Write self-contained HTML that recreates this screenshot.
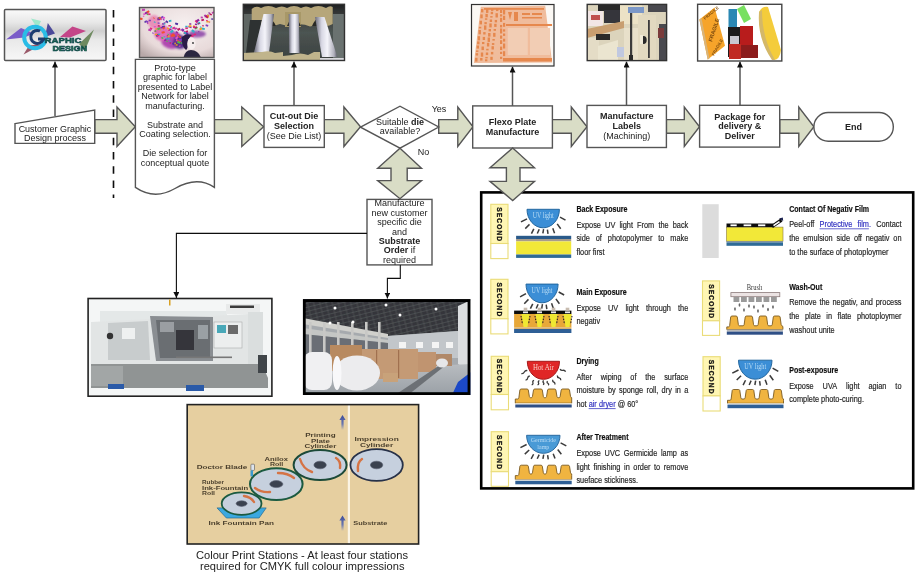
<!DOCTYPE html><html><head><meta charset="utf-8"><style>
html,body{margin:0;padding:0;background:#fff;width:920px;height:577px;overflow:hidden}
svg{display:block}
text{font-family:"Liberation Sans", sans-serif}
</style></head><body>
<svg width="920" height="577" viewBox="0 0 920 577">
<defs>
<marker id="ah" viewBox="0 0 10 10" refX="10" refY="5" markerWidth="6" markerHeight="6" orient="auto-start-reverse" markerUnits="userSpaceOnUse"><path d="M0,0 L10,5 L0,10 z" fill="#111"/></marker>
<filter id="soft" x="0" y="0" width="920" height="577" filterUnits="userSpaceOnUse"><feGaussianBlur stdDeviation="0.3"/></filter>
</defs>
<rect width="920" height="577" fill="#fff"/>
<g filter="url(#soft)">

<defs><filter id="bl1" x="-10%" y="-10%" width="120%" height="120%"><feGaussianBlur stdDeviation="0.6"/></filter><filter id="bl2" x="-20%" y="-20%" width="140%" height="140%"><feGaussianBlur stdDeviation="1.2"/></filter><filter id="bl3" x="-30%" y="-30%" width="160%" height="160%"><feGaussianBlur stdDeviation="2"/></filter><linearGradient id="gdbg" x1="0" y1="0" x2="0" y2="1"><stop offset="0" stop-color="#fafafa"/><stop offset="0.25" stop-color="#e8e8e8"/><stop offset="0.42" stop-color="#cfcfcf"/><stop offset="0.6" stop-color="#e9e9e9"/><stop offset="1" stop-color="#f7f7f7"/></linearGradient><radialGradient id="bfbg" cx="0.6" cy="0.35" r="0.8"><stop offset="0" stop-color="#f6f0f0"/><stop offset="0.7" stop-color="#e8dada"/><stop offset="1" stop-color="#b8a8a8"/></radialGradient><linearGradient id="cyl" x1="0" y1="0" x2="1" y2="0"><stop offset="0" stop-color="#8a8a96"/><stop offset="0.35" stop-color="#f0f0f6"/><stop offset="0.7" stop-color="#dcdce4"/><stop offset="1" stop-color="#7a7a84"/></linearGradient><clipPath id="c_gd"><rect x="4.5" y="9.5" width="101.5" height="51"/></clipPath><clipPath id="c_bf"><rect x="139.5" y="7.5" width="74.5" height="50"/></clipPath><clipPath id="c_die"><rect x="243.3" y="4.3" width="101.2" height="56.2"/></clipPath><clipPath id="c_fx"><rect x="471.5" y="4.5" width="82.5" height="61.5"/></clipPath><clipPath id="c_lb"><rect x="587.2" y="4.4" width="79.4" height="56.2"/></clipPath><clipPath id="c_pk"><rect x="697.6" y="4.3" width="84.2" height="56.7"/></clipPath><clipPath id="c_la"><rect x="88.1" y="298.5" width="183.8" height="97.7"/></clipPath><clipPath id="c_wh"><rect x="303" y="299.3" width="167.3" height="95.6"/></clipPath><clipPath id="c_pr"><rect x="187.2" y="404.6" width="231.4" height="139.4"/></clipPath></defs>
<g clip-path="url(#c_gd)">
<rect x="4.5" y="9.5" width="101.5" height="51" fill="url(#gdbg)"/>
<g filter="url(#bl1)">
<polygon points="6,39.5 21,28 34,33.5 24,37.5" fill="#7a5cc8"/>
<polygon points="31,18.5 41,21 37.5,28.5" fill="#a0e8cc"/>
<polygon points="47.8,23 55,33.5 45,37" fill="#4c4a9a"/>
<polygon points="60,37 72.4,26.5 86,31 70,37.5" fill="#c44488"/>
<polygon points="79,44 94,29.5 85,50" fill="#6e8a60"/>
<polygon points="23.5,54.5 29,45.5 43,44" fill="#9a5868"/>
<circle cx="35" cy="37.5" r="10.8" fill="none" stroke="#2cbce6" stroke-width="4"/>
<path d="M38,39 h7 M40,31 a6.5,6.5 0 1 0 3,9" fill="none" stroke="#1a3c70" stroke-width="3"/>
<text x="44.5" y="43.2" font-size="8" font-weight="bold" fill="#1a6a50" textLength="37" lengthAdjust="spacingAndGlyphs" stroke="#0a3a48" stroke-width="0.5">RAPHIC</text>
<text x="52.5" y="50.5" font-size="8" font-weight="bold" fill="#2a8a50" textLength="34.5" lengthAdjust="spacingAndGlyphs" stroke="#0a3a48" stroke-width="0.6">DESIGN</text>
</g></g>
<rect x="4.5" y="9.5" width="101.5" height="51" fill="none" stroke="#555" stroke-width="1.5" rx="1"/>
<g clip-path="url(#c_bf)">
<rect x="139.5" y="7.5" width="74.5" height="50" fill="url(#bfbg)"/>
<g filter="url(#bl2)">
<ellipse cx="172" cy="40" rx="11" ry="9" fill="#b048b0"/>
<ellipse cx="180" cy="42" rx="7" ry="7" fill="#5a3090"/>
<ellipse cx="162" cy="33" rx="8" ry="8" fill="#e070b8"/>
<ellipse cx="154" cy="22" rx="6" ry="7" fill="#e890b8"/>
<ellipse cx="197" cy="34" rx="9" ry="3.5" fill="#9a5ab0"/>
</g>
<g filter="url(#bl1)">
<rect x="172.0" y="34.2" width="3.1" height="2.1" fill="#f05030" transform="rotate(17 173.6 35.3)"/>
<rect x="176.7" y="36.0" width="1.7" height="1.2" fill="#9028a0" transform="rotate(20 177.6 36.6)"/>
<rect x="147.0" y="22.7" width="1.6" height="1.1" fill="#c040b0" transform="rotate(-35 147.8 23.3)"/>
<rect x="172.3" y="42.8" width="2.6" height="1.8" fill="#5030a0" transform="rotate(-39 173.6 43.7)"/>
<rect x="163.6" y="36.2" width="1.8" height="1.2" fill="#30b0c8" transform="rotate(-3 164.5 36.8)"/>
<rect x="175.9" y="39.4" width="2.2" height="1.6" fill="#e050c8" transform="rotate(12 177.0 40.1)"/>
<rect x="162.7" y="19.1" width="1.9" height="1.3" fill="#8040c0" transform="rotate(32 163.7 19.8)"/>
<rect x="194.7" y="26.8" width="2.9" height="2.0" fill="#50b850" transform="rotate(-32 196.2 27.8)"/>
<rect x="139.5" y="17.8" width="3.0" height="2.1" fill="#f05030" transform="rotate(8 141.0 18.9)"/>
<rect x="196.3" y="21.1" width="1.6" height="1.1" fill="#c01860" transform="rotate(-39 197.1 21.7)"/>
<rect x="148.7" y="20.0" width="1.6" height="1.1" fill="#e02878" transform="rotate(19 149.5 20.6)"/>
<rect x="180.4" y="29.4" width="1.7" height="1.2" fill="#c040b0" transform="rotate(-24 181.3 30.0)"/>
<rect x="170.1" y="26.3" width="2.1" height="1.5" fill="#30b0c8" transform="rotate(-40 171.2 27.0)"/>
<rect x="197.3" y="22.2" width="3.0" height="2.1" fill="#30b0c8" transform="rotate(-17 198.8 23.3)"/>
<rect x="211.3" y="18.4" width="1.9" height="1.3" fill="#5030a0" transform="rotate(2 212.2 19.0)"/>
<rect x="200.0" y="26.6" width="1.5" height="1.1" fill="#30b0c8" transform="rotate(34 200.8 27.1)"/>
<rect x="166.7" y="37.7" width="1.6" height="1.1" fill="#5030a0" transform="rotate(21 167.5 38.2)"/>
<rect x="167.8" y="37.8" width="2.0" height="1.4" fill="#30b0c8" transform="rotate(38 168.8 38.5)"/>
<rect x="157.6" y="17.0" width="2.7" height="1.9" fill="#9028a0" transform="rotate(-15 159.0 17.9)"/>
<rect x="189.3" y="26.5" width="2.3" height="1.6" fill="#8040c0" transform="rotate(13 190.5 27.2)"/>
<rect x="143.3" y="13.3" width="2.3" height="1.6" fill="#e050c8" transform="rotate(-10 144.4 14.1)"/>
<rect x="193.2" y="26.7" width="2.2" height="1.5" fill="#5030a0" transform="rotate(22 194.3 27.4)"/>
<rect x="160.8" y="16.3" width="2.7" height="1.9" fill="#8040c0" transform="rotate(-24 162.1 17.2)"/>
<rect x="156.0" y="34.3" width="2.9" height="2.1" fill="#5030a0" transform="rotate(-31 157.4 35.3)"/>
<rect x="159.6" y="29.4" width="1.5" height="1.1" fill="#f0a020" transform="rotate(-4 160.4 29.9)"/>
<rect x="166.7" y="35.3" width="1.6" height="1.1" fill="#c01860" transform="rotate(-23 167.6 35.9)"/>
<rect x="142.0" y="8.8" width="3.0" height="2.1" fill="#c040b0" transform="rotate(-1 143.5 9.8)"/>
<rect x="185.4" y="30.7" width="2.7" height="1.9" fill="#c01860" transform="rotate(-23 186.8 31.7)"/>
<rect x="211.8" y="11.7" width="2.4" height="1.7" fill="#c040b0" transform="rotate(-35 213.0 12.5)"/>
<rect x="205.6" y="24.6" width="2.6" height="1.8" fill="#8040c0" transform="rotate(13 206.9 25.5)"/>
<rect x="188.0" y="26.3" width="1.4" height="1.0" fill="#8040c0" transform="rotate(-30 188.7 26.8)"/>
<rect x="146.6" y="13.8" width="1.9" height="1.3" fill="#50b850" transform="rotate(2 147.5 14.4)"/>
<rect x="181.4" y="28.7" width="2.9" height="2.0" fill="#8040c0" transform="rotate(26 182.8 29.7)"/>
<rect x="183.4" y="31.0" width="1.8" height="1.3" fill="#c040b0" transform="rotate(-26 184.3 31.6)"/>
<rect x="175.3" y="36.8" width="3.1" height="2.1" fill="#e050c8" transform="rotate(-39 176.8 37.9)"/>
<rect x="183.7" y="32.4" width="2.8" height="1.9" fill="#c01860" transform="rotate(16 185.0 33.4)"/>
<rect x="168.9" y="19.9" width="2.5" height="1.8" fill="#30b0c8" transform="rotate(-13 170.1 20.8)"/>
<rect x="167.7" y="35.7" width="2.0" height="1.4" fill="#f0a020" transform="rotate(-23 168.7 36.4)"/>
<rect x="208.5" y="21.4" width="1.7" height="1.2" fill="#f05030" transform="rotate(20 209.4 22.0)"/>
<rect x="159.7" y="18.3" width="2.1" height="1.5" fill="#e02878" transform="rotate(26 160.8 19.1)"/>
<rect x="175.1" y="22.8" width="2.9" height="2.0" fill="#5030a0" transform="rotate(17 176.6 23.8)"/>
<rect x="159.7" y="36.6" width="2.6" height="1.8" fill="#e050c8" transform="rotate(33 161.0 37.6)"/>
<rect x="165.3" y="38.7" width="2.4" height="1.7" fill="#e02878" transform="rotate(-23 166.5 39.5)"/>
<rect x="195.0" y="20.5" width="2.8" height="2.0" fill="#e02878" transform="rotate(40 196.4 21.5)"/>
<rect x="148.1" y="13.3" width="2.4" height="1.7" fill="#e02878" transform="rotate(7 149.3 14.1)"/>
<rect x="154.5" y="30.7" width="1.7" height="1.2" fill="#e02878" transform="rotate(20 155.4 31.3)"/>
<rect x="168.1" y="29.6" width="1.8" height="1.2" fill="#e02878" transform="rotate(8 168.9 30.2)"/>
<rect x="179.4" y="38.9" width="2.3" height="1.6" fill="#c01860" transform="rotate(19 180.6 39.7)"/>
<rect x="148.8" y="19.7" width="2.1" height="1.5" fill="#8040c0" transform="rotate(-1 149.9 20.4)"/>
<rect x="178.7" y="45.5" width="2.0" height="1.4" fill="#c040b0" transform="rotate(-38 179.7 46.2)"/>
<rect x="171.4" y="33.9" width="2.8" height="1.9" fill="#f05030" transform="rotate(-37 172.7 34.9)"/>
<rect x="177.9" y="40.2" width="3.0" height="2.1" fill="#f05030" transform="rotate(-21 179.4 41.3)"/>
<rect x="177.2" y="40.1" width="2.2" height="1.5" fill="#f05030" transform="rotate(34 178.3 40.9)"/>
<rect x="208.4" y="12.4" width="1.8" height="1.3" fill="#9028a0" transform="rotate(31 209.3 13.0)"/>
<rect x="185.5" y="32.5" width="2.9" height="2.0" fill="#9028a0" transform="rotate(-8 187.0 33.6)"/>
<rect x="162.0" y="25.9" width="2.9" height="2.0" fill="#5030a0" transform="rotate(-14 163.4 26.9)"/>
<rect x="176.0" y="27.8" width="1.6" height="1.1" fill="#e02878" transform="rotate(37 176.8 28.3)"/>
<rect x="167.4" y="33.8" width="1.5" height="1.0" fill="#50b850" transform="rotate(29 168.1 34.3)"/>
<rect x="175.6" y="40.9" width="1.5" height="1.1" fill="#9028a0" transform="rotate(18 176.4 41.5)"/>
<rect x="206.4" y="20.9" width="2.3" height="1.6" fill="#f0a020" transform="rotate(3 207.5 21.7)"/>
<rect x="162.6" y="17.1" width="2.5" height="1.8" fill="#e050c8" transform="rotate(-24 163.8 18.0)"/>
<rect x="142.9" y="15.8" width="1.4" height="1.0" fill="#e050c8" transform="rotate(1 143.6 16.3)"/>
<rect x="175.7" y="31.6" width="2.4" height="1.7" fill="#9028a0" transform="rotate(39 176.9 32.5)"/>
<rect x="157.9" y="17.5" width="2.4" height="1.6" fill="#50b850" transform="rotate(-38 159.0 18.3)"/>
<rect x="166.9" y="27.6" width="2.4" height="1.6" fill="#f0a020" transform="rotate(28 168.1 28.4)"/>
<rect x="185.5" y="32.9" width="2.9" height="2.1" fill="#5030a0" transform="rotate(35 187.0 33.9)"/>
<rect x="201.3" y="19.0" width="2.7" height="1.9" fill="#c01860" transform="rotate(-17 202.7 19.9)"/>
<rect x="162.2" y="22.7" width="3.1" height="2.1" fill="#30b0c8" transform="rotate(-16 163.7 23.8)"/>
<rect x="204.0" y="14.7" width="1.8" height="1.3" fill="#c040b0" transform="rotate(-29 204.9 15.3)"/>
<rect x="199.5" y="27.8" width="2.8" height="2.0" fill="#f0a020" transform="rotate(-15 200.9 28.8)"/>
<rect x="169.3" y="40.7" width="1.4" height="1.0" fill="#30b0c8" transform="rotate(32 170.0 41.2)"/>
<rect x="209.6" y="13.6" width="2.3" height="1.6" fill="#c01860" transform="rotate(24 210.7 14.4)"/>
<rect x="198.1" y="31.2" width="1.4" height="1.0" fill="#9028a0" transform="rotate(38 198.8 31.7)"/>
<rect x="177.2" y="35.1" width="1.7" height="1.2" fill="#f0a020" transform="rotate(-26 178.1 35.7)"/>
<rect x="146.3" y="10.8" width="3.1" height="2.2" fill="#f05030" transform="rotate(-31 147.9 11.9)"/>
<rect x="194.9" y="23.6" width="2.2" height="1.6" fill="#9028a0" transform="rotate(5 196.1 24.4)"/>
<rect x="171.3" y="36.7" width="1.4" height="1.0" fill="#c040b0" transform="rotate(-35 172.0 37.2)"/>
<rect x="200.7" y="16.7" width="2.2" height="1.6" fill="#c040b0" transform="rotate(7 201.8 17.5)"/>
<rect x="152.2" y="32.6" width="1.4" height="1.0" fill="#8040c0" transform="rotate(40 152.9 33.1)"/>
<rect x="207.2" y="14.6" width="2.0" height="1.4" fill="#9028a0" transform="rotate(7 208.2 15.3)"/>
<rect x="169.5" y="42.4" width="1.5" height="1.1" fill="#c01860" transform="rotate(-2 170.2 43.0)"/>
<rect x="165.3" y="38.1" width="2.5" height="1.8" fill="#30b0c8" transform="rotate(-6 166.6 39.0)"/>
<rect x="164.1" y="39.2" width="2.4" height="1.7" fill="#9028a0" transform="rotate(-31 165.3 40.0)"/>
<rect x="154.3" y="26.1" width="1.6" height="1.1" fill="#e050c8" transform="rotate(-5 155.1 26.7)"/>
<rect x="206.8" y="15.7" width="2.2" height="1.6" fill="#f0a020" transform="rotate(23 208.0 16.5)"/>
<rect x="178.9" y="36.3" width="2.2" height="1.5" fill="#f05030" transform="rotate(13 180.0 37.0)"/>
<rect x="160.5" y="27.0" width="2.0" height="1.4" fill="#9028a0" transform="rotate(-4 161.5 27.7)"/>
<rect x="185.3" y="27.3" width="2.6" height="1.8" fill="#e02878" transform="rotate(0 186.6 28.2)"/>
<rect x="170.3" y="30.3" width="3.2" height="2.2" fill="#30b0c8" transform="rotate(-35 171.9 31.4)"/>
<rect x="191.5" y="29.9" width="3.2" height="2.2" fill="#30b0c8" transform="rotate(37 193.0 31.0)"/>
<rect x="202.2" y="25.2" width="1.7" height="1.2" fill="#c01860" transform="rotate(16 203.0 25.8)"/>
<rect x="149.8" y="27.7" width="2.5" height="1.7" fill="#e02878" transform="rotate(34 151.1 28.6)"/>
<rect x="188.7" y="25.2" width="2.7" height="1.9" fill="#f0a020" transform="rotate(-3 190.1 26.1)"/>
<rect x="165.5" y="20.8" width="2.6" height="1.8" fill="#5030a0" transform="rotate(35 166.9 21.8)"/>
<rect x="153.8" y="21.5" width="1.8" height="1.3" fill="#30b0c8" transform="rotate(24 154.7 22.1)"/>
<rect x="144.3" y="21.0" width="2.2" height="1.5" fill="#5030a0" transform="rotate(-36 145.4 21.7)"/>
<rect x="144.9" y="12.1" width="2.6" height="1.8" fill="#9028a0" transform="rotate(-10 146.2 13.1)"/>
<rect x="185.3" y="25.7" width="2.3" height="1.6" fill="#30b0c8" transform="rotate(3 186.4 26.5)"/>
<rect x="155.4" y="28.3" width="1.9" height="1.3" fill="#f0a020" transform="rotate(7 156.3 28.9)"/>
<rect x="181.8" y="30.0" width="2.0" height="1.4" fill="#9028a0" transform="rotate(-30 182.8 30.7)"/>
<rect x="170.7" y="34.7" width="2.9" height="2.0" fill="#f05030" transform="rotate(-2 172.1 35.7)"/>
<rect x="175.6" y="44.2" width="2.0" height="1.4" fill="#f0a020" transform="rotate(-12 176.6 44.9)"/>
<rect x="190.5" y="34.7" width="3.1" height="2.1" fill="#e02878" transform="rotate(-5 192.1 35.8)"/>
<rect x="161.9" y="23.2" width="2.1" height="1.5" fill="#c040b0" transform="rotate(26 162.9 23.9)"/>
<rect x="157.8" y="25.3" width="2.1" height="1.4" fill="#c01860" transform="rotate(10 158.9 26.0)"/>
<rect x="193.1" y="25.6" width="2.1" height="1.5" fill="#f0a020" transform="rotate(35 194.2 26.3)"/>
<rect x="176.9" y="33.7" width="2.4" height="1.7" fill="#e02878" transform="rotate(14 178.1 34.6)"/>
<rect x="157.3" y="18.4" width="2.8" height="1.9" fill="#9028a0" transform="rotate(3 158.7 19.4)"/>
<rect x="195.1" y="26.8" width="2.0" height="1.4" fill="#c01860" transform="rotate(-23 196.1 27.5)"/>
<rect x="175.2" y="33.3" width="2.7" height="1.9" fill="#c040b0" transform="rotate(39 176.5 34.3)"/>
<rect x="177.3" y="41.4" width="2.8" height="2.0" fill="#50b850" transform="rotate(13 178.7 42.4)"/>
<rect x="206.1" y="20.0" width="1.7" height="1.2" fill="#e02878" transform="rotate(8 206.9 20.5)"/>
<rect x="189.2" y="23.3" width="2.1" height="1.5" fill="#9028a0" transform="rotate(-3 190.3 24.1)"/>
<rect x="174.0" y="42.7" width="1.9" height="1.4" fill="#f0a020" transform="rotate(-18 174.9 43.3)"/>
<rect x="197.8" y="23.1" width="1.8" height="1.2" fill="#c01860" transform="rotate(-13 198.6 23.7)"/>
<rect x="182.2" y="36.4" width="2.2" height="1.6" fill="#9028a0" transform="rotate(-12 183.4 37.2)"/>
<rect x="157.3" y="27.8" width="3.0" height="2.1" fill="#50b850" transform="rotate(-20 158.8 28.8)"/>
<rect x="184.9" y="32.7" width="1.5" height="1.0" fill="#5030a0" transform="rotate(-18 185.6 33.2)"/>
<rect x="145.6" y="20.7" width="2.7" height="1.9" fill="#8040c0" transform="rotate(21 146.9 21.7)"/>
<rect x="193.7" y="33.7" width="2.3" height="1.6" fill="#e02878" transform="rotate(-16 194.9 34.5)"/>
<rect x="154.8" y="33.7" width="2.3" height="1.6" fill="#f0a020" transform="rotate(-1 156.0 34.5)"/>
<rect x="162.6" y="27.2" width="2.4" height="1.7" fill="#f05030" transform="rotate(-32 163.8 28.1)"/>
<rect x="166.1" y="40.7" width="1.6" height="1.1" fill="#50b850" transform="rotate(19 166.9 41.3)"/>
<rect x="148.3" y="28.9" width="3.0" height="2.1" fill="#c040b0" transform="rotate(20 149.8 29.9)"/>
<rect x="157.0" y="34.7" width="2.2" height="1.6" fill="#e02878" transform="rotate(-14 158.1 35.5)"/>
<rect x="204.6" y="15.3" width="2.5" height="1.8" fill="#9028a0" transform="rotate(-2 205.9 16.2)"/>
<rect x="153.8" y="26.1" width="1.6" height="1.1" fill="#e050c8" transform="rotate(-5 154.6 26.7)"/>
<rect x="180.5" y="42.3" width="2.0" height="1.4" fill="#50b850" transform="rotate(-29 181.5 43.0)"/>
<rect x="153.2" y="17.6" width="1.5" height="1.0" fill="#f05030" transform="rotate(35 153.9 18.1)"/>
<rect x="206.9" y="14.9" width="1.8" height="1.2" fill="#f0a020" transform="rotate(9 207.7 15.5)"/>
<rect x="196.2" y="19.4" width="3.2" height="2.2" fill="#9028a0" transform="rotate(-38 197.8 20.5)"/>
<rect x="158.8" y="17.2" width="2.0" height="1.4" fill="#f05030" transform="rotate(-27 159.8 17.9)"/>
<rect x="164.2" y="22.2" width="1.6" height="1.1" fill="#c040b0" transform="rotate(-20 165.0 22.8)"/>
<rect x="158.3" y="33.6" width="1.9" height="1.4" fill="#30b0c8" transform="rotate(5 159.3 34.3)"/>
<rect x="183.8" y="32.3" width="2.4" height="1.7" fill="#30b0c8" transform="rotate(26 185.1 33.1)"/>
<rect x="174.4" y="27.9" width="2.0" height="1.4" fill="#8040c0" transform="rotate(6 175.4 28.6)"/>
<rect x="172.6" y="42.7" width="1.8" height="1.3" fill="#5030a0" transform="rotate(29 173.6 43.3)"/>
<rect x="205.5" y="16.0" width="2.7" height="1.9" fill="#c01860" transform="rotate(36 206.9 16.9)"/>
<rect x="172.3" y="27.0" width="2.8" height="2.0" fill="#e02878" transform="rotate(-23 173.7 28.0)"/>
<rect x="192.9" y="26.1" width="2.5" height="1.7" fill="#e02878" transform="rotate(-20 194.1 26.9)"/>
<rect x="154.5" y="30.4" width="1.7" height="1.2" fill="#50b850" transform="rotate(-25 155.4 31.0)"/>
<rect x="173.6" y="27.5" width="2.5" height="1.8" fill="#c040b0" transform="rotate(32 174.8 28.3)"/>
<rect x="169.2" y="28.5" width="2.4" height="1.7" fill="#9028a0" transform="rotate(2 170.4 29.4)"/>
<rect x="177.3" y="28.3" width="3.0" height="2.1" fill="#c01860" transform="rotate(-34 178.8 29.3)"/>
<rect x="161.2" y="37.2" width="2.2" height="1.5" fill="#50b850" transform="rotate(36 162.3 38.0)"/>
<rect x="178.7" y="38.8" width="3.1" height="2.2" fill="#8040c0" transform="rotate(7 180.2 39.9)"/>
<rect x="202.0" y="27.8" width="2.8" height="2.0" fill="#30b0c8" transform="rotate(13 203.4 28.8)"/>
<rect x="157.6" y="22.4" width="2.0" height="1.4" fill="#8040c0" transform="rotate(16 158.6 23.1)"/>
<rect x="168.4" y="24.9" width="2.5" height="1.7" fill="#e02878" transform="rotate(-1 169.6 25.8)"/>
<rect x="161.6" y="31.3" width="3.1" height="2.2" fill="#f05030" transform="rotate(-14 163.2 32.4)"/>
</g>
<path d="M182,37 Q186,33 192,35 Q188,38 187.5,44 Q188,49 186,50 Q181,46 182,37 Z" fill="#2a1e48" filter="url(#bl1)"/>
<ellipse cx="191.5" cy="43.5" rx="4.2" ry="6" fill="#f6eeee" filter="url(#bl1)"/>
<circle cx="193" cy="43" r="0.9" fill="#333"/>
<path d="M183.5,57.5 Q185,50 191,50 Q198,50 201,57.5 Z" fill="#2c2640" filter="url(#bl1)"/>
</g>
<rect x="139.5" y="7.5" width="74.5" height="50" fill="none" stroke="#555" stroke-width="1.4"/>
<defs><linearGradient id="cylL" x1="0" y1="0" x2="1" y2="0"><stop offset="0" stop-color="#6a6a78"/><stop offset="0.3" stop-color="#d8d8e4"/><stop offset="0.55" stop-color="#f4f4fa"/><stop offset="0.85" stop-color="#b0b0bc"/><stop offset="1" stop-color="#5a5a66"/></linearGradient><linearGradient id="dieb" x1="0" y1="0" x2="0" y2="1"><stop offset="0" stop-color="#1e1e20"/><stop offset="0.2" stop-color="#3a3e3c"/><stop offset="0.5" stop-color="#4c5452"/><stop offset="1" stop-color="#3a403e"/></linearGradient></defs>
<g clip-path="url(#c_die)">
<rect x="243" y="4" width="102" height="57" fill="url(#dieb)"/>
<g filter="url(#bl1)">
<rect x="243" y="14" width="12" height="40" fill="#5e6664"/>
<rect x="333" y="14" width="12" height="44" fill="#6a7270"/>
<path d="M251.7,9 Q256,5 261,8 Q268,4 276,8 Q282,5 287,8 Q294,4 301,8 Q306,5 311,8 Q318,4 326,8 Q330,5 332.7,7 L332.7,24 Q326,28 320,24 L310,26.6 Q300,22 290,26.6 L280,24 Q270,28 262,24 L251.7,26.6 Z" fill="#b6a67a"/>
<rect x="285" y="12" width="16" height="15" fill="#a89868"/>
<path d="M262,26 Q268,10 276,26 Z" fill="#2a2a28"/><path d="M287,26 Q293.5,9 301,26 Z" fill="#2a2a28"/><path d="M312,26 Q319,10 327,26 Z" fill="#2a2a28"/>
<polygon points="250,20 262,20 254,53 246,53" fill="#2e3230"/>
<polygon points="263.5,14 274,14 269,52.5 254,52.5" fill="url(#cylL)"/>
<polygon points="288.7,14 298.7,14 299.9,53 289.3,53" fill="url(#cylL)"/>
<polygon points="315,17 324.5,17 337.4,57 322,57" fill="url(#cylL)"/>
<path d="M243,53 L262,52 Q270,50 275,53 L283,52 L283,56 L292,55 Q300,52 308,55 L314,52 L320,52 L320,61 L243,61 Z" fill="#c0b48c"/>
<rect x="320" y="58" width="25" height="3" fill="#d8d8dc"/>
</g></g>
<rect x="243.3" y="4.3" width="101.2" height="56.2" fill="none" stroke="#333" stroke-width="1.4"/>
<g clip-path="url(#c_fx)">
<rect x="471.5" y="4.5" width="82.5" height="61.5" fill="#fbf8f4"/>
<polygon points="480.8,6.7 545.2,5.8 552.1,62.4 473.9,63" fill="#f0bc9c"/>
<g filter="url(#bl1)" fill="#e6884e">
<rect x="481.0" y="9.0" width="2.4" height="3.4"/>
<rect x="480.3" y="14.4" width="2.4" height="3.9"/>
<rect x="479.6" y="20.7" width="2.4" height="3.7"/>
<rect x="478.9" y="26.8" width="2.4" height="1.6"/>
<rect x="478.5" y="30.0" width="2.4" height="4.3"/>
<rect x="477.7" y="36.2" width="2.4" height="4.2"/>
<rect x="477.1" y="41.4" width="2.4" height="2.9"/>
<rect x="476.6" y="45.5" width="2.4" height="3.1"/>
<rect x="476.0" y="50.4" width="2.4" height="1.5"/>
<rect x="475.7" y="53.2" width="2.4" height="2.3"/>
<rect x="475.1" y="57.8" width="2.4" height="3.8"/>
<rect x="486.0" y="9.0" width="2.4" height="3.9"/>
<rect x="485.4" y="13.9" width="2.4" height="3.4"/>
<rect x="484.9" y="18.3" width="2.4" height="1.5"/>
<rect x="484.4" y="22.1" width="2.4" height="2.1"/>
<rect x="484.0" y="25.4" width="2.4" height="4.4"/>
<rect x="483.2" y="32.1" width="2.4" height="2.4"/>
<rect x="482.7" y="36.9" width="2.4" height="3.1"/>
<rect x="482.0" y="42.0" width="2.4" height="2.1"/>
<rect x="481.5" y="46.5" width="2.4" height="3.6"/>
<rect x="480.8" y="52.5" width="2.4" height="4.2"/>
<rect x="480.1" y="58.0" width="2.4" height="2.6"/>
<rect x="491.0" y="9.0" width="2.4" height="1.9"/>
<rect x="490.7" y="11.8" width="2.4" height="2.4"/>
<rect x="490.2" y="16.1" width="2.4" height="1.5"/>
<rect x="489.7" y="19.5" width="2.4" height="2.5"/>
<rect x="489.3" y="23.4" width="2.4" height="4.0"/>
<rect x="488.6" y="29.0" width="2.4" height="2.4"/>
<rect x="488.1" y="33.0" width="2.4" height="3.6"/>
<rect x="487.6" y="37.5" width="2.4" height="4.4"/>
<rect x="486.9" y="42.8" width="2.4" height="3.7"/>
<rect x="486.2" y="48.8" width="2.4" height="1.6"/>
<rect x="485.8" y="52.5" width="2.4" height="2.6"/>
<rect x="485.3" y="56.9" width="2.4" height="1.5"/>
<rect x="485.0" y="59.3" width="2.4" height="2.0"/>
<rect x="496.0" y="9.0" width="2.4" height="2.1"/>
<rect x="495.5" y="13.2" width="2.4" height="4.3"/>
<rect x="494.7" y="19.9" width="2.4" height="2.5"/>
<rect x="494.2" y="23.8" width="2.4" height="3.1"/>
<rect x="493.6" y="29.0" width="2.4" height="1.8"/>
<rect x="493.1" y="32.9" width="2.4" height="3.9"/>
<rect x="492.4" y="39.0" width="2.4" height="1.6"/>
<rect x="491.9" y="43.1" width="2.4" height="1.8"/>
<rect x="491.5" y="46.2" width="2.4" height="3.3"/>
<rect x="490.9" y="51.9" width="2.4" height="2.5"/>
<rect x="490.3" y="56.8" width="2.4" height="3.1"/>
<rect x="500" y="10.0" width="2.2" height="3.0"/>
<rect x="500" y="14.3" width="2.2" height="2.2"/>
<rect x="500" y="17.8" width="2.2" height="4.1"/>
<rect x="500" y="24.9" width="2.2" height="2.5"/>
<rect x="500" y="28.5" width="2.2" height="5.0"/>
<rect x="500" y="35.5" width="2.2" height="3.2"/>
<rect x="500" y="40.2" width="2.2" height="3.8"/>
<rect x="500" y="46.6" width="2.2" height="3.4"/>
<rect x="500" y="51.8" width="2.2" height="2.2"/>
<rect x="500" y="56.8" width="2.2" height="2.1"/>
<rect x="503" y="10.0" width="2.2" height="4.5"/>
<rect x="503" y="15.8" width="2.2" height="4.2"/>
<rect x="503" y="22.9" width="2.2" height="3.9"/>
<rect x="503" y="29.3" width="2.2" height="2.3"/>
<rect x="503" y="33.5" width="2.2" height="2.4"/>
<rect x="503" y="38.7" width="2.2" height="2.9"/>
<rect x="503" y="43.5" width="2.2" height="5.0"/>
<rect x="503" y="51.2" width="2.2" height="4.9"/>
<rect x="503" y="58.0" width="2.2" height="3.5"/>
<rect x="484" y="8" width="60" height="1.8"/>
<polygon points="508,12 512,12 510,20"/><rect x="514" y="12" width="4" height="9"/>
<rect x="522" y="13" width="8" height="2"/><rect x="532" y="13" width="10" height="2"/><rect x="522" y="17" width="20" height="1.5"/>
<rect x="506" y="24" width="46" height="2"/>
<rect x="507.8" y="28" width="20" height="27" fill="#f2cdb4"/>
<rect x="530" y="28" width="20" height="27" fill="#f2cdb4"/>
<rect x="505" y="58" width="47" height="3.5"/>
</g></g>
<rect x="471.5" y="4.5" width="82.5" height="61.5" fill="none" stroke="#333" stroke-width="1.2"/>
<g clip-path="url(#c_lb)">
<rect x="587" y="4" width="80" height="57" fill="#dcd4bc"/>
<g filter="url(#bl1)">
<rect x="598" y="4" width="30" height="7" fill="#2a2a2a"/>
<rect x="604" y="10" width="16" height="13" fill="#34343a"/>
<rect x="620" y="4" width="22" height="20" fill="#ece2c6"/>
<rect x="648" y="4" width="19" height="8" fill="#4a4a50"/>
<rect x="588" y="11" width="15" height="15" fill="#f2e6e6"/>
<rect x="591" y="15" width="9" height="5" fill="#c05050"/>
<polygon points="587,29 624,21 624,28 587,38" fill="#c89e70"/>
<rect x="587" y="38" width="12" height="23" fill="#e4dcc6"/>
<rect x="596" y="34" width="14" height="6" fill="#2a2a2a"/>
<polygon points="598,46 618,40 618,61 598,61" fill="#ebe5d0"/>
<rect x="617" y="47" width="9" height="10" fill="#c0c8e0"/>
<rect x="624" y="28" width="14" height="33" fill="#e8e0ca"/>
<rect x="630" y="10" width="2.2" height="51" fill="#3a3a3a"/>
<rect x="638" y="15" width="18" height="46" fill="#e2d9c0"/>
<ellipse cx="643.5" cy="40" rx="3.2" ry="4" fill="#2a2a2a"/>
<rect x="640" y="35" width="3" height="9" fill="#f0ead8"/>
<rect x="648" y="20" width="1.8" height="38" fill="#3a3a3a"/>
<rect x="659" y="24" width="8" height="37" fill="#4a4a50"/>
<rect x="658" y="28" width="6" height="10" fill="#7a3a3a"/>
<rect x="628" y="7" width="16" height="6" fill="#7c98c8"/>
<rect x="629" y="55" width="4" height="6" fill="#2a2a2a"/>
</g></g>
<rect x="587.2" y="4.4" width="79.4" height="56.2" fill="none" stroke="#333" stroke-width="1.4"/>
<g clip-path="url(#c_pk)">
<rect x="697.6" y="4.3" width="84.2" height="56.7" fill="#fff"/>
<g filter="url(#bl1)">
<polygon points="699.4,19.4 714.6,7.6 725,45.7 707.7,59.6" fill="#f6a42a"/>
<polygon points="699.4,19.4 701.5,18 709.5,58.5 707.7,59.6" fill="#d8b47a"/>
<text x="0" y="0" font-size="4.2" font-weight="bold" fill="#7a4a10" transform="translate(705,20) rotate(-40)">FRAGILE</text>
<text x="0" y="0" font-size="5.5" font-weight="bold" fill="#7a4a10" transform="translate(712,42) rotate(-72)">FRAGILE</text>
<text x="0" y="0" font-size="4.2" font-weight="bold" fill="#7a4a10" transform="translate(714,56) rotate(-60)">FRAGILE</text>
<rect x="728.5" y="9" width="8.5" height="18" fill="#2a88b4"/>
<polygon points="737,9 744,5 751,19 744,23" fill="#78e060"/>
<rect x="728" y="27" width="12" height="30" fill="#1e1e1e"/>
<rect x="740" y="26" width="13" height="20" fill="#b81c1c"/>
<rect x="729" y="44" width="12" height="15" fill="#c02a24"/>
<rect x="741" y="45" width="17" height="13" fill="#8c1a1a"/>
<rect x="730" y="36" width="9" height="8" fill="#c8c8d0"/>
<path d="M759,12 Q762,6 768,7 L781,50 Q780,60 773,60 Q761,40 759,12 Z" fill="#f4cc3a"/>
<path d="M759,12 Q757,38 772,60 L775,60 Q762,38 762,10 Z" fill="#d4b868"/>
</g></g>
<rect x="697.6" y="4.3" width="84.2" height="56.7" fill="none" stroke="#444" stroke-width="1.4"/>
<g clip-path="url(#c_la)">
<rect x="88" y="298" width="184" height="98" fill="#f4f6f6"/>
<g filter="url(#bl1)">
<polygon points="100,311 226,311 228,318 100,322" fill="#e4e8e8"/>
<polygon points="91,322 250,314 262,318 262,372 91,372" fill="#e2e5e5"/>
<rect x="226" y="304" width="34" height="10" fill="#e8eaea"/>
<rect x="230" y="305.5" width="24" height="2.5" fill="#3a3a3a"/>
<polygon points="150,316 213,317 213,361 156,361" fill="#8a8e92"/>
<polygon points="156,320 210,320 210,358 160,358" fill="#6a6e72"/>
<rect x="160" y="322" width="14" height="10" fill="#9a9ea2"/>
<rect x="176" y="330" width="18" height="20" fill="#34363a"/>
<rect x="198" y="325" width="10" height="14" fill="#9aa0a4"/>
<polygon points="108,323 148,321 150,360 108,360" fill="#c8cccd"/>
<rect x="122" y="328" width="13" height="11" fill="#eef0f0"/>
<circle cx="110" cy="336" r="3.2" fill="#333"/>
<rect x="214" y="322" width="28" height="26" fill="#eceeee" stroke="#aaa" stroke-width="0.6"/>
<rect x="217" y="325" width="9" height="8" fill="#4aa8b8"/>
<rect x="228" y="325" width="10" height="9" fill="#6a6a6a"/>
<rect x="248" y="312" width="15" height="60" fill="#dadede"/>
<polygon points="91,364 262,364 268,378 268,388 91,388" fill="#909494"/>
<rect x="91" y="366" width="32" height="20" fill="#a2a6a6"/>
<rect x="176" y="356.5" width="56" height="1.6" fill="#777"/>
<rect x="108" y="384" width="16" height="5" fill="#2a5aa8"/>
<rect x="186" y="385" width="18" height="6" fill="#2a5aa8"/>
<rect x="258" y="355" width="9" height="18" fill="#404448"/>
</g></g>
<rect x="88.1" y="298.5" width="183.8" height="97.7" fill="none" stroke="#222" stroke-width="1.6"/>
<rect x="169" y="299.5" width="1.5" height="6" fill="#d8a020"/>
<defs><linearGradient id="whfl" x1="0" y1="0" x2="0" y2="1"><stop offset="0" stop-color="#b8bcc0"/><stop offset="1" stop-color="#9aa0a6"/></linearGradient><pattern id="beams" width="6" height="4" patternUnits="userSpaceOnUse" patternTransform="rotate(-14)"><rect width="6" height="4" fill="#34363a"/><path d="M0,0.5 H6 M3,0 V4" stroke="#55595e" stroke-width="0.6"/></pattern></defs>
<g clip-path="url(#c_wh)">
<rect x="303" y="299" width="168" height="96" fill="#a6aaae"/>
<g filter="url(#bl1)">
<polygon points="303,299 471,299 471,334 458,331 388,336 303,320" fill="url(#beams)"/>
<polygon points="303,318 388,334 388,338 303,324" fill="#d0d0cc"/>
<polygon points="303,328 388,340 388,343 303,334" fill="#c4c6c4"/>
<polygon points="303,334 388,343 388,356 303,356" fill="#6a6e74"/>
<rect x="309" y="322" width="2.6" height="34" fill="#c8c8c6"/>
<rect x="323" y="322" width="2.6" height="34" fill="#c8c8c6"/>
<rect x="337" y="322" width="2.6" height="34" fill="#c8c8c6"/>
<rect x="351" y="322" width="2.6" height="34" fill="#c8c8c6"/>
<rect x="365" y="322" width="2.6" height="34" fill="#c8c8c6"/>
<rect x="378" y="322" width="2.6" height="34" fill="#c8c8c6"/>
<polygon points="388,336 458,331 458,358 388,358" fill="#c2c6ca"/>
<rect x="399" y="342" width="7" height="6" fill="#f4f4f4"/>
<rect x="416" y="342" width="7" height="6" fill="#f4f4f4"/>
<rect x="432" y="342" width="7" height="6" fill="#f4f4f4"/>
<rect x="446" y="342" width="7" height="6" fill="#f4f4f4"/>
<polygon points="458,306 471,300 471,372 458,364" fill="#dcdee0"/>
<polygon points="303,372 471,364 471,395 303,395" fill="url(#whfl)"/>
<rect x="330" y="345" width="32" height="26" fill="#b88a60"/>
<rect x="362" y="349" width="56" height="30" fill="#c49a74"/>
<rect x="376" y="350" width="1.2" height="28" fill="#a07050"/>
<rect x="398" y="350" width="1.2" height="28" fill="#a07050"/>
<rect x="418" y="352" width="18" height="20" fill="#c09470"/>
<rect x="436" y="354" width="16" height="12" fill="#b08868"/>
<rect x="383" y="373" width="15" height="9" fill="#c8a27a"/>
<polygon points="395,395 440,365 446,365 408,395" fill="#6c7074"/>
<polygon points="458,382 471,372 471,395 452,395" fill="#1a48c8"/>
<rect x="304" y="352" width="28" height="38" rx="8" fill="#f0f0f2"/>
<ellipse cx="357" cy="373" rx="23" ry="17.5" fill="#ececee"/>
<ellipse cx="337" cy="373" rx="4.5" ry="17" fill="#f8f8fa"/>
<ellipse cx="442" cy="363" rx="6" ry="4.5" fill="#e6e6e8"/>
</g>
<circle cx="335" cy="308" r="1.5" fill="#fff" filter="url(#bl1)"/>
<circle cx="386" cy="305" r="1.5" fill="#fff" filter="url(#bl1)"/>
<circle cx="400" cy="315" r="1.5" fill="#fff" filter="url(#bl1)"/>
<circle cx="436" cy="309" r="1.5" fill="#fff" filter="url(#bl1)"/>
<circle cx="353" cy="322" r="1.5" fill="#fff" filter="url(#bl1)"/>
<circle cx="330" cy="323" r="1.5" fill="#fff" filter="url(#bl1)"/>
</g>
<rect x="304.3" y="300.6" width="164.7" height="93" fill="none" stroke="#000" stroke-width="2.8"/>
<g clip-path="url(#c_pr)">
<rect x="187" y="404" width="232" height="141" fill="#e6cfa0"/>
<rect x="347.8" y="404" width="2.2" height="141" fill="#fbf4e4"/>
<defs><linearGradient id="barr" x1="0" y1="0" x2="0" y2="1"><stop offset="0" stop-color="#3a4a9a"/><stop offset="0.6" stop-color="#6a78b0"/><stop offset="1" stop-color="#e6cfa0"/></linearGradient></defs>
<path d="M342.5,415 L345.6,420 L343.6,420 L343.6,430 L341.4,430 L341.4,420 L339.4,420 Z" fill="url(#barr)"/>
<path d="M342.5,515.5 L345.6,520.5 L343.6,520.5 L343.6,531 L341.4,531 L341.4,520.5 L339.4,520.5 Z" fill="url(#barr)"/>
<polygon points="217,507.9 226.4,518 259.1,518 266.2,507.9" fill="#3aa8e0" stroke="#2a6a90" stroke-width="0.7"/>
<ellipse cx="241.6" cy="503.6" rx="19.9" ry="11.3" fill="#c6d0de" stroke="#1a5a40" stroke-width="1.8"/>
<ellipse cx="241.6" cy="503.6" rx="5.5" ry="2.8" fill="#3a4250" stroke="#5a6070" stroke-width="0.6"/>
<ellipse cx="276.3" cy="484.1" rx="26.3" ry="15.9" fill="#c6d0de" stroke="#1a5a40" stroke-width="2.0"/>
<ellipse cx="276.3" cy="484.1" rx="6.6" ry="3.5" fill="#3a4250" stroke="#5a6070" stroke-width="0.6"/>
<ellipse cx="320.1" cy="465" rx="26.5" ry="15.1" fill="#c6d0de" stroke="#1a4a38" stroke-width="2.0"/>
<ellipse cx="320.1" cy="465" rx="6.2" ry="3.8" fill="#3a4250" stroke="#5a6070" stroke-width="0.6"/>
<ellipse cx="376.6" cy="465" rx="26.2" ry="15.8" fill="#c6d0de" stroke="#283048" stroke-width="1.8"/>
<ellipse cx="376.6" cy="465" rx="6.2" ry="3.8" fill="#3a4250" stroke="#5a6070" stroke-width="0.6"/>
<g fill="none" stroke="#d8642a" stroke-width="2.4" opacity="0.85" filter="url(#bl1)" stroke-linecap="round">
<path d="M244,496 Q251,497 254,502"/>
<path d="M255,488 Q262,493 270,492"/><path d="M278,473 Q288,473 294,478"/>
<path d="M300,459 Q303,469 312,472"/><path d="M336,458 Q341,461 340,468"/>
<path d="M358,471 Q357,462 362,459"/>
</g>
<rect x="250.9" y="464.2" width="3.6" height="6.2" rx="0.8" fill="#dde4ee" stroke="#555" stroke-width="0.6"/>
<rect x="250.5" y="470.4" width="2.5" height="6" fill="#3a9ad0"/>
<text x="320.4" y="436.6" fill="#3a3020" font-weight="bold" font-size="5.8" text-anchor="middle" textLength="30.5" lengthAdjust="spacingAndGlyphs" opacity="0.9">Printing</text>
<text x="320.4" y="442.6" fill="#3a3020" font-weight="bold" font-size="5.8" text-anchor="middle" textLength="19" lengthAdjust="spacingAndGlyphs" opacity="0.9">Plate</text>
<text x="320.4" y="447.7" fill="#3a3020" font-weight="bold" font-size="5.8" text-anchor="middle" textLength="31.9" lengthAdjust="spacingAndGlyphs" opacity="0.9">Cylinder</text>
<text x="376.6" y="440.8" fill="#3a3020" font-weight="bold" font-size="5.8" text-anchor="middle" textLength="44.4" lengthAdjust="spacingAndGlyphs" opacity="0.9">Impression</text>
<text x="376.6" y="447.1" fill="#3a3020" font-weight="bold" font-size="5.8" text-anchor="middle" textLength="33.2" lengthAdjust="spacingAndGlyphs" opacity="0.9">Cylinder</text>
<text x="276.3" y="460.8" fill="#3a3020" font-weight="bold" font-size="5.8" text-anchor="middle" textLength="23.4" lengthAdjust="spacingAndGlyphs" opacity="0.9">Anilox</text>
<text x="276.6" y="466.2" fill="#3a3020" font-weight="bold" font-size="5.8" text-anchor="middle" textLength="13.3" lengthAdjust="spacingAndGlyphs" opacity="0.9">Roll</text>
<text x="196.7" y="468.6" fill="#3a3020" font-weight="bold" font-size="5.8" text-anchor="start" textLength="50.7" lengthAdjust="spacingAndGlyphs" opacity="0.9">Doctor Blade</text>
<text x="202" y="483.8" fill="#3a3020" font-weight="bold" font-size="5.8" text-anchor="start" textLength="22" lengthAdjust="spacingAndGlyphs" opacity="0.9">Rubber</text>
<text x="202" y="489.5" fill="#3a3020" font-weight="bold" font-size="5.8" text-anchor="start" textLength="46.2" lengthAdjust="spacingAndGlyphs" opacity="0.9">Ink-Fountain</text>
<text x="202" y="495.2" fill="#3a3020" font-weight="bold" font-size="5.8" text-anchor="start" textLength="13" lengthAdjust="spacingAndGlyphs" opacity="0.9">Roll</text>
<text x="208.5" y="524.5" fill="#3a3020" font-weight="bold" font-size="5.8" text-anchor="start" textLength="65.5" lengthAdjust="spacingAndGlyphs" opacity="0.9">Ink Fountain Pan</text>
<text x="353.3" y="524.7" fill="#3a3020" font-weight="bold" font-size="5.8" text-anchor="start" textLength="34" lengthAdjust="spacingAndGlyphs" opacity="0.9">Substrate</text>
</g>
<rect x="187.2" y="404.6" width="231.4" height="139.4" fill="none" stroke="#222" stroke-width="1.6"/>
<line x1="113.5" y1="10" x2="113.5" y2="198" stroke="#111" stroke-width="1.6" stroke-dasharray="7.5 6.7"/>
<line x1="55" y1="116" x2="55" y2="61.5" stroke="#555" stroke-width="1.5" marker-end="url(#ah)"/>
<line x1="294" y1="105.5" x2="294" y2="61.5" stroke="#555" stroke-width="1.5" marker-end="url(#ah)"/>
<line x1="512.5" y1="106" x2="512.5" y2="66.5" stroke="#555" stroke-width="1.5" marker-end="url(#ah)"/>
<line x1="626.5" y1="105.5" x2="626.5" y2="61.5" stroke="#555" stroke-width="1.5" marker-end="url(#ah)"/>
<line x1="740" y1="105.5" x2="740" y2="61.5" stroke="#555" stroke-width="1.5" marker-end="url(#ah)"/>
<polygon points="15,123.6 94.7,110 94.7,143.4 15,143.4" fill="#fff" stroke="#555" stroke-width="1.4"/>
<polygon points="95,119.6 117,119.6 117,107 135.3,126.75 117,146.5 117,133.3 95,133.3" fill="#d9ddc6" stroke="#555" stroke-width="1.4"/>
<polygon points="214.4,119.6 241.8,119.6 241.8,107 263.6,126.75 241.8,146.5 241.8,133.3 214.4,133.3" fill="#d9ddc6" stroke="#555" stroke-width="1.4"/>
<polygon points="324.3,119.6 343.9,119.6 343.9,107 360.5,126.75 343.9,146.5 343.9,133.3 324.3,133.3" fill="#d9ddc6" stroke="#555" stroke-width="1.4"/>
<polygon points="438.7,119.6 457.8,119.6 457.8,107 473,126.75 457.8,146.5 457.8,133.3 438.7,133.3" fill="#d9ddc6" stroke="#555" stroke-width="1.4"/>
<polygon points="552.2,119.6 571.3,119.6 571.3,107 587,126.75 571.3,146.5 571.3,133.3 552.2,133.3" fill="#d9ddc6" stroke="#555" stroke-width="1.4"/>
<polygon points="666.4,119.6 684.3,119.6 684.3,107 699.5,126.75 684.3,146.5 684.3,133.3 666.4,133.3" fill="#d9ddc6" stroke="#555" stroke-width="1.4"/>
<polygon points="779.7,119.6 798.8,119.6 798.8,107 813.9,126.75 798.8,146.5 798.8,133.3 779.7,133.3" fill="#d9ddc6" stroke="#555" stroke-width="1.4"/>
<path d="M135.4,59.4 H214.4 V187.4 C202,179 188,181 175,188.5 C162,196 148,196 135.4,187.4 Z" fill="#fff" stroke="#555" stroke-width="1.4"/>
<rect x="264" y="105.6" width="60.30000000000001" height="41.80000000000001" fill="#fff" stroke="#555" stroke-width="1.4"/>
<rect x="472.7" y="105.9" width="79.69999999999999" height="42.099999999999994" fill="#fff" stroke="#555" stroke-width="1.4"/>
<rect x="587" y="105.4" width="79.39999999999998" height="42.099999999999994" fill="#fff" stroke="#555" stroke-width="1.4"/>
<rect x="699.6" y="105.3" width="80.10000000000002" height="41.8" fill="#fff" stroke="#555" stroke-width="1.4"/>
<rect x="813.9" y="112.5" width="79.4" height="28.7" rx="14.3" fill="#fff" stroke="#555" stroke-width="1.4"/>
<polygon points="360.5,127.2 400,106.2 438.7,127 400,148.2" fill="#fff" stroke="#555" stroke-width="1.4"/>
<rect x="481.2" y="192.4" width="432" height="296" fill="#fff" stroke="#000" stroke-width="2.6"/>
<rect x="367" y="199.4" width="65" height="65.49999999999997" fill="#fff" stroke="#555" stroke-width="1.4"/>
<polyline points="367,233.4 176.4,233.4 176.4,298" fill="none" stroke="#111" stroke-width="1.1" marker-end="url(#ah)"/>
<polyline points="400.3,264.9 400.3,278.4 387.4,278.4 387.4,298.6" fill="none" stroke="#111" stroke-width="1.1" marker-end="url(#ah)"/>
<text x="302" y="558.5" font-size="11" text-anchor="middle" fill="#222" textLength="212" lengthAdjust="spacingAndGlyphs">Colour Print Stations - At least four stations</text>
<text x="302.2" y="569.8" font-size="11" text-anchor="middle" fill="#222" textLength="204.5" lengthAdjust="spacingAndGlyphs">required for CMYK full colour impressions</text>
<text x="55" y="131.65" font-size="9" text-anchor="middle" fill="#222" textLength="72.7" lengthAdjust="spacingAndGlyphs">Customer Graphic</text>
<text x="55" y="141.45" font-size="9" text-anchor="middle" fill="#222">Design process</text>
<text x="175" y="70.75" font-size="9" text-anchor="middle" fill="#222">Proto-type</text>
<text x="175" y="80.25" font-size="9" text-anchor="middle" fill="#222">graphic for label</text>
<text x="175" y="89.75" font-size="9" text-anchor="middle" fill="#222">presented to Label</text>
<text x="175" y="99.25" font-size="9" text-anchor="middle" fill="#222">Network for label</text>
<text x="175" y="108.75" font-size="9" text-anchor="middle" fill="#222">manufacturing.</text>
<text x="175" y="127.75" font-size="9" text-anchor="middle" fill="#222">Substrate and</text>
<text x="175" y="137.25" font-size="9" text-anchor="middle" fill="#222">Coating selection.</text>
<text x="175" y="156.25" font-size="9" text-anchor="middle" fill="#222">Die selection for</text>
<text x="175" y="165.75" font-size="9" text-anchor="middle" fill="#222">conceptual quote</text>
<text x="294" y="119.15" font-size="9" text-anchor="middle" fill="#222" font-weight="bold">Cut-out Die</text>
<text x="294" y="129.15" font-size="9" text-anchor="middle" fill="#222" font-weight="bold">Selection</text>
<text x="294" y="139.15" font-size="9" text-anchor="middle" fill="#222">(See Die List)</text>
<text x="400" y="124.65" font-size="9" text-anchor="middle" fill="#222">Suitable <tspan font-weight="bold">die</tspan></text>
<text x="400" y="134.15" font-size="9" text-anchor="middle" fill="#222">available?</text>
<text x="439" y="112.15" font-size="9" text-anchor="middle" fill="#222">Yes</text>
<text x="423.4" y="154.55" font-size="9" text-anchor="middle" fill="#222">No</text>
<text x="512.5" y="125.05" font-size="9" text-anchor="middle" fill="#222" font-weight="bold">Flexo Plate</text>
<text x="512.5" y="134.55" font-size="9" text-anchor="middle" fill="#222" font-weight="bold">Manufacture</text>
<text x="626.7" y="119.35" font-size="9" text-anchor="middle" fill="#222" font-weight="bold">Manufacture</text>
<text x="626.7" y="129.15" font-size="9" text-anchor="middle" fill="#222" font-weight="bold">Labels</text>
<text x="626.7" y="139.05" font-size="9" text-anchor="middle" fill="#222">(Machining)</text>
<text x="739.7" y="119.65" font-size="9" text-anchor="middle" fill="#222" font-weight="bold">Package for</text>
<text x="739.7" y="129.25" font-size="9" text-anchor="middle" fill="#222" font-weight="bold">delivery &amp;</text>
<text x="739.7" y="138.85" font-size="9" text-anchor="middle" fill="#222" font-weight="bold">Deliver</text>
<text x="853.5" y="129.75" font-size="9" text-anchor="middle" fill="#222" font-weight="bold">End</text>
<text x="399.5" y="206.05" font-size="9" text-anchor="middle" fill="#222">Manufacture</text>
<text x="399.5" y="215.65" font-size="9" text-anchor="middle" fill="#222">new customer</text>
<text x="399.5" y="225.35" font-size="9" text-anchor="middle" fill="#222">specific die</text>
<text x="399.5" y="234.75" font-size="9" text-anchor="middle" fill="#222">and</text>
<text x="399.5" y="244.15" font-size="9" text-anchor="middle" fill="#222" font-weight="bold">Substrate</text>
<text x="399.5" y="253.45" font-size="9" text-anchor="middle" fill="#222" font-weight="bold">Order <tspan font-weight="normal">if</tspan></text>
<text x="399.5" y="263.15" font-size="9" text-anchor="middle" fill="#222">required</text>
<text x="576.40" y="212" font-size="8.3" fill="#111" stroke="#111" stroke-width="0.18" font-weight="bold" textLength="50.97" lengthAdjust="spacingAndGlyphs">Back Exposure</text>
<text x="576.40" y="227.6" font-size="8.5" fill="#262626" stroke="#262626" stroke-width="0.18" textLength="24.52" lengthAdjust="spacingAndGlyphs">Expose</text>
<text x="605.08" y="227.6" font-size="8.5" fill="#262626" stroke="#262626" stroke-width="0.18" textLength="10.21" lengthAdjust="spacingAndGlyphs">UV</text>
<text x="619.45" y="227.6" font-size="8.5" fill="#262626" stroke="#262626" stroke-width="0.18" textLength="13.49" lengthAdjust="spacingAndGlyphs">light</text>
<text x="637.09" y="227.6" font-size="8.5" fill="#262626" stroke="#262626" stroke-width="0.18" textLength="17.15" lengthAdjust="spacingAndGlyphs">From</text>
<text x="658.40" y="227.6" font-size="8.5" fill="#262626" stroke="#262626" stroke-width="0.18" textLength="10.22" lengthAdjust="spacingAndGlyphs">the</text>
<text x="672.77" y="227.6" font-size="8.5" fill="#262626" stroke="#262626" stroke-width="0.18" textLength="15.53" lengthAdjust="spacingAndGlyphs">back</text>
<text x="576.40" y="241.4" font-size="8.5" fill="#262626" stroke="#262626" stroke-width="0.18" textLength="13.49" lengthAdjust="spacingAndGlyphs">side</text>
<text x="595.79" y="241.4" font-size="8.5" fill="#262626" stroke="#262626" stroke-width="0.18" textLength="6.13" lengthAdjust="spacingAndGlyphs">of</text>
<text x="607.83" y="241.4" font-size="8.5" fill="#262626" stroke="#262626" stroke-width="0.18" textLength="44.55" lengthAdjust="spacingAndGlyphs">photopolymer</text>
<text x="658.28" y="241.4" font-size="8.5" fill="#262626" stroke="#262626" stroke-width="0.18" textLength="6.13" lengthAdjust="spacingAndGlyphs">to</text>
<text x="670.32" y="241.4" font-size="8.5" fill="#262626" stroke="#262626" stroke-width="0.18" textLength="17.98" lengthAdjust="spacingAndGlyphs">make</text>
<text x="576.40" y="255.2" font-size="8.5" fill="#262626" stroke="#262626" stroke-width="0.18" textLength="14.30" lengthAdjust="spacingAndGlyphs">floor</text>
<text x="592.74" y="255.2" font-size="8.5" fill="#262626" stroke="#262626" stroke-width="0.18" textLength="11.84" lengthAdjust="spacingAndGlyphs">first</text>
<text x="576.40" y="295" font-size="8.3" fill="#111" stroke="#111" stroke-width="0.18" font-weight="bold" textLength="50.18" lengthAdjust="spacingAndGlyphs">Main Exposure</text>
<text x="576.40" y="310.6" font-size="8.5" fill="#262626" stroke="#262626" stroke-width="0.18" textLength="24.52" lengthAdjust="spacingAndGlyphs">Expose</text>
<text x="608.05" y="310.6" font-size="8.5" fill="#262626" stroke="#262626" stroke-width="0.18" textLength="10.21" lengthAdjust="spacingAndGlyphs">UV</text>
<text x="625.40" y="310.6" font-size="8.5" fill="#262626" stroke="#262626" stroke-width="0.18" textLength="13.49" lengthAdjust="spacingAndGlyphs">light</text>
<text x="646.02" y="310.6" font-size="8.5" fill="#262626" stroke="#262626" stroke-width="0.18" textLength="24.93" lengthAdjust="spacingAndGlyphs">through</text>
<text x="678.08" y="310.6" font-size="8.5" fill="#262626" stroke="#262626" stroke-width="0.18" textLength="10.22" lengthAdjust="spacingAndGlyphs">the</text>
<text x="576.40" y="324.4" font-size="8.5" fill="#262626" stroke="#262626" stroke-width="0.18" textLength="23.71" lengthAdjust="spacingAndGlyphs">negativ</text>
<text x="576.40" y="364" font-size="8.3" fill="#111" stroke="#111" stroke-width="0.18" font-weight="bold" textLength="22.34" lengthAdjust="spacingAndGlyphs">Drying</text>
<text x="576.40" y="379.6" font-size="8.5" fill="#262626" stroke="#262626" stroke-width="0.18" textLength="15.53" lengthAdjust="spacingAndGlyphs">After</text>
<text x="600.69" y="379.6" font-size="8.5" fill="#262626" stroke="#262626" stroke-width="0.18" textLength="20.84" lengthAdjust="spacingAndGlyphs">wiping</text>
<text x="630.30" y="379.6" font-size="8.5" fill="#262626" stroke="#262626" stroke-width="0.18" textLength="6.13" lengthAdjust="spacingAndGlyphs">of</text>
<text x="645.20" y="379.6" font-size="8.5" fill="#262626" stroke="#262626" stroke-width="0.18" textLength="10.22" lengthAdjust="spacingAndGlyphs">the</text>
<text x="664.19" y="379.6" font-size="8.5" fill="#262626" stroke="#262626" stroke-width="0.18" textLength="24.11" lengthAdjust="spacingAndGlyphs">surface</text>
<text x="576.40" y="393.4" font-size="8.5" fill="#262626" stroke="#262626" stroke-width="0.18" textLength="28.19" lengthAdjust="spacingAndGlyphs">moisture</text>
<text x="607.92" y="393.4" font-size="8.5" fill="#262626" stroke="#262626" stroke-width="0.18" textLength="7.76" lengthAdjust="spacingAndGlyphs">by</text>
<text x="619.01" y="393.4" font-size="8.5" fill="#262626" stroke="#262626" stroke-width="0.18" textLength="24.12" lengthAdjust="spacingAndGlyphs">sponge</text>
<text x="646.45" y="393.4" font-size="8.5" fill="#262626" stroke="#262626" stroke-width="0.18" textLength="11.85" lengthAdjust="spacingAndGlyphs">roll,</text>
<text x="661.62" y="393.4" font-size="8.5" fill="#262626" stroke="#262626" stroke-width="0.18" textLength="10.21" lengthAdjust="spacingAndGlyphs">dry</text>
<text x="675.16" y="393.4" font-size="8.5" fill="#262626" stroke="#262626" stroke-width="0.18" textLength="5.72" lengthAdjust="spacingAndGlyphs">in</text>
<text x="684.21" y="393.4" font-size="8.5" fill="#262626" stroke="#262626" stroke-width="0.18" textLength="4.09" lengthAdjust="spacingAndGlyphs">a</text>
<text x="576.40" y="407.2" font-size="8.5" fill="#262626" stroke="#262626" stroke-width="0.18" textLength="10.22" lengthAdjust="spacingAndGlyphs">hot</text>
<text x="588.66" y="407.2" font-size="8.5" fill="#3030c0" stroke="#3030c0" stroke-width="0.18" textLength="8.17" lengthAdjust="spacingAndGlyphs">air</text>
<text x="598.88" y="407.2" font-size="8.5" fill="#3030c0" stroke="#3030c0" stroke-width="0.18" textLength="16.75" lengthAdjust="spacingAndGlyphs">dryer</text>
<text x="617.67" y="407.2" font-size="8.5" fill="#262626" stroke="#262626" stroke-width="0.18" textLength="7.46" lengthAdjust="spacingAndGlyphs">@</text>
<text x="627.17" y="407.2" font-size="8.5" fill="#262626" stroke="#262626" stroke-width="0.18" textLength="11.12" lengthAdjust="spacingAndGlyphs">60°</text>
<line x1="588.66" y1="408.59999999999997" x2="615.63" y2="408.59999999999997" stroke="#3030c0" stroke-width="0.75"/>
<text x="576.40" y="440.2" font-size="8.3" fill="#111" stroke="#111" stroke-width="0.18" font-weight="bold" textLength="52.14" lengthAdjust="spacingAndGlyphs">After Treatment</text>
<text x="576.40" y="455.8" font-size="8.5" fill="#262626" stroke="#262626" stroke-width="0.18" textLength="24.52" lengthAdjust="spacingAndGlyphs">Expose</text>
<text x="604.59" y="455.8" font-size="8.5" fill="#262626" stroke="#262626" stroke-width="0.18" textLength="15.52" lengthAdjust="spacingAndGlyphs">UVC</text>
<text x="623.77" y="455.8" font-size="8.5" fill="#262626" stroke="#262626" stroke-width="0.18" textLength="33.50" lengthAdjust="spacingAndGlyphs">Germicide</text>
<text x="660.94" y="455.8" font-size="8.5" fill="#262626" stroke="#262626" stroke-width="0.18" textLength="15.94" lengthAdjust="spacingAndGlyphs">lamp</text>
<text x="680.54" y="455.8" font-size="8.5" fill="#262626" stroke="#262626" stroke-width="0.18" textLength="7.76" lengthAdjust="spacingAndGlyphs">as</text>
<text x="576.40" y="469.6" font-size="8.5" fill="#262626" stroke="#262626" stroke-width="0.18" textLength="13.49" lengthAdjust="spacingAndGlyphs">light</text>
<text x="593.47" y="469.6" font-size="8.5" fill="#262626" stroke="#262626" stroke-width="0.18" textLength="26.97" lengthAdjust="spacingAndGlyphs">finishing</text>
<text x="624.02" y="469.6" font-size="8.5" fill="#262626" stroke="#262626" stroke-width="0.18" textLength="5.72" lengthAdjust="spacingAndGlyphs">in</text>
<text x="633.33" y="469.6" font-size="8.5" fill="#262626" stroke="#262626" stroke-width="0.18" textLength="17.16" lengthAdjust="spacingAndGlyphs">order</text>
<text x="654.07" y="469.6" font-size="8.5" fill="#262626" stroke="#262626" stroke-width="0.18" textLength="6.13" lengthAdjust="spacingAndGlyphs">to</text>
<text x="663.79" y="469.6" font-size="8.5" fill="#262626" stroke="#262626" stroke-width="0.18" textLength="24.51" lengthAdjust="spacingAndGlyphs">remove</text>
<text x="576.40" y="483.4" font-size="8.5" fill="#262626" stroke="#262626" stroke-width="0.18" textLength="25.75" lengthAdjust="spacingAndGlyphs">sueface</text>
<text x="604.19" y="483.4" font-size="8.5" fill="#262626" stroke="#262626" stroke-width="0.18" textLength="33.91" lengthAdjust="spacingAndGlyphs">stickiness.</text>
<text x="789.20" y="211.8" font-size="8.3" fill="#111" stroke="#111" stroke-width="0.18" font-weight="bold" textLength="79.96" lengthAdjust="spacingAndGlyphs">Contact Of Negativ Film</text>
<text x="789.20" y="227.4" font-size="8.5" fill="#262626" stroke="#262626" stroke-width="0.18" textLength="25.20" lengthAdjust="spacingAndGlyphs">Peel-off</text>
<text x="819.60" y="227.4" font-size="8.5" fill="#3030c0" stroke="#3030c0" stroke-width="0.18" textLength="32.69" lengthAdjust="spacingAndGlyphs">Protective</text>
<text x="857.49" y="227.4" font-size="8.5" fill="#3030c0" stroke="#3030c0" stroke-width="0.18" textLength="13.48" lengthAdjust="spacingAndGlyphs">film.</text>
<text x="876.16" y="227.4" font-size="8.5" fill="#262626" stroke="#262626" stroke-width="0.18" textLength="25.34" lengthAdjust="spacingAndGlyphs">Contact</text>
<line x1="819.60" y1="228.8" x2="868.92" y2="228.8" stroke="#3030c0" stroke-width="0.75"/>
<text x="789.20" y="241.2" font-size="8.5" fill="#262626" stroke="#262626" stroke-width="0.18" textLength="10.22" lengthAdjust="spacingAndGlyphs">the</text>
<text x="803.27" y="241.2" font-size="8.5" fill="#262626" stroke="#262626" stroke-width="0.18" textLength="29.42" lengthAdjust="spacingAndGlyphs">emulsion</text>
<text x="836.54" y="241.2" font-size="8.5" fill="#262626" stroke="#262626" stroke-width="0.18" textLength="13.49" lengthAdjust="spacingAndGlyphs">side</text>
<text x="853.88" y="241.2" font-size="8.5" fill="#262626" stroke="#262626" stroke-width="0.18" textLength="8.04" lengthAdjust="spacingAndGlyphs">off</text>
<text x="865.77" y="241.2" font-size="8.5" fill="#262626" stroke="#262626" stroke-width="0.18" textLength="23.71" lengthAdjust="spacingAndGlyphs">negativ</text>
<text x="893.32" y="241.2" font-size="8.5" fill="#262626" stroke="#262626" stroke-width="0.18" textLength="8.18" lengthAdjust="spacingAndGlyphs">on</text>
<text x="789.20" y="255.0" font-size="8.5" fill="#262626" stroke="#262626" stroke-width="0.18" textLength="6.13" lengthAdjust="spacingAndGlyphs">to</text>
<text x="797.37" y="255.0" font-size="8.5" fill="#262626" stroke="#262626" stroke-width="0.18" textLength="10.22" lengthAdjust="spacingAndGlyphs">the</text>
<text x="809.64" y="255.0" font-size="8.5" fill="#262626" stroke="#262626" stroke-width="0.18" textLength="24.11" lengthAdjust="spacingAndGlyphs">surface</text>
<text x="835.79" y="255.0" font-size="8.5" fill="#262626" stroke="#262626" stroke-width="0.18" textLength="6.13" lengthAdjust="spacingAndGlyphs">of</text>
<text x="843.96" y="255.0" font-size="8.5" fill="#262626" stroke="#262626" stroke-width="0.18" textLength="44.55" lengthAdjust="spacingAndGlyphs">photoploymer</text>
<text x="789.20" y="289.5" font-size="8.3" fill="#111" stroke="#111" stroke-width="0.18" font-weight="bold" textLength="33.05" lengthAdjust="spacingAndGlyphs">Wash-Out</text>
<text x="789.20" y="305.1" font-size="8.5" fill="#262626" stroke="#262626" stroke-width="0.18" textLength="27.38" lengthAdjust="spacingAndGlyphs">Remove</text>
<text x="819.45" y="305.1" font-size="8.5" fill="#262626" stroke="#262626" stroke-width="0.18" textLength="10.22" lengthAdjust="spacingAndGlyphs">the</text>
<text x="832.54" y="305.1" font-size="8.5" fill="#262626" stroke="#262626" stroke-width="0.18" textLength="25.20" lengthAdjust="spacingAndGlyphs">negativ,</text>
<text x="860.62" y="305.1" font-size="8.5" fill="#262626" stroke="#262626" stroke-width="0.18" textLength="12.27" lengthAdjust="spacingAndGlyphs">and</text>
<text x="875.76" y="305.1" font-size="8.5" fill="#262626" stroke="#262626" stroke-width="0.18" textLength="25.74" lengthAdjust="spacingAndGlyphs">process</text>
<text x="789.20" y="318.9" font-size="8.5" fill="#262626" stroke="#262626" stroke-width="0.18" textLength="10.22" lengthAdjust="spacingAndGlyphs">the</text>
<text x="804.91" y="318.9" font-size="8.5" fill="#262626" stroke="#262626" stroke-width="0.18" textLength="15.94" lengthAdjust="spacingAndGlyphs">plate</text>
<text x="826.35" y="318.9" font-size="8.5" fill="#262626" stroke="#262626" stroke-width="0.18" textLength="5.72" lengthAdjust="spacingAndGlyphs">in</text>
<text x="837.56" y="318.9" font-size="8.5" fill="#262626" stroke="#262626" stroke-width="0.18" textLength="13.90" lengthAdjust="spacingAndGlyphs">flate</text>
<text x="856.95" y="318.9" font-size="8.5" fill="#262626" stroke="#262626" stroke-width="0.18" textLength="44.55" lengthAdjust="spacingAndGlyphs">photoploymer</text>
<text x="789.20" y="332.7" font-size="8.5" fill="#262626" stroke="#262626" stroke-width="0.18" textLength="27.38" lengthAdjust="spacingAndGlyphs">washout</text>
<text x="818.63" y="332.7" font-size="8.5" fill="#262626" stroke="#262626" stroke-width="0.18" textLength="15.94" lengthAdjust="spacingAndGlyphs">unite</text>
<text x="789.20" y="373" font-size="8.3" fill="#111" stroke="#111" stroke-width="0.18" font-weight="bold" textLength="49.00" lengthAdjust="spacingAndGlyphs">Post-exposure</text>
<text x="789.20" y="388.6" font-size="8.5" fill="#262626" stroke="#262626" stroke-width="0.18" textLength="24.52" lengthAdjust="spacingAndGlyphs">Expose</text>
<text x="822.62" y="388.6" font-size="8.5" fill="#262626" stroke="#262626" stroke-width="0.18" textLength="14.57" lengthAdjust="spacingAndGlyphs">UVA</text>
<text x="846.09" y="388.6" font-size="8.5" fill="#262626" stroke="#262626" stroke-width="0.18" textLength="13.49" lengthAdjust="spacingAndGlyphs">light</text>
<text x="868.48" y="388.6" font-size="8.5" fill="#262626" stroke="#262626" stroke-width="0.18" textLength="17.99" lengthAdjust="spacingAndGlyphs">agian</text>
<text x="895.37" y="388.6" font-size="8.5" fill="#262626" stroke="#262626" stroke-width="0.18" textLength="6.13" lengthAdjust="spacingAndGlyphs">to</text>
<text x="789.20" y="402.4" font-size="8.5" fill="#262626" stroke="#262626" stroke-width="0.18" textLength="29.83" lengthAdjust="spacingAndGlyphs">complete</text>
<text x="821.07" y="402.4" font-size="8.5" fill="#262626" stroke="#262626" stroke-width="0.18" textLength="42.91" lengthAdjust="spacingAndGlyphs">photo-curing.</text>
<rect x="490.8" y="204.3" width="17.19999999999999" height="39.19999999999999" fill="#fff6b4" stroke="#eadc78" stroke-width="1.1"/>
<rect x="490.8" y="243.5" width="17.19999999999999" height="15.100000000000023" fill="#fff" stroke="#eadc78" stroke-width="1.1"/>
<text x="0" y="0" font-size="6.6" font-weight="bold" fill="#111" stroke="#111" stroke-width="0.3" text-anchor="middle" textLength="33.8" lengthAdjust="spacing" transform="translate(497.00,224.20) rotate(90)">SECOND</text>
<rect x="490.8" y="279.3" width="17.19999999999999" height="39.5" fill="#fff6b4" stroke="#eadc78" stroke-width="1.1"/>
<rect x="490.8" y="318.8" width="17.19999999999999" height="15.099999999999966" fill="#fff" stroke="#eadc78" stroke-width="1.1"/>
<text x="0" y="0" font-size="6.6" font-weight="bold" fill="#111" stroke="#111" stroke-width="0.3" text-anchor="middle" textLength="33.8" lengthAdjust="spacing" transform="translate(497.00,299.35) rotate(90)">SECOND</text>
<rect x="491.2" y="356.3" width="17.30000000000001" height="38.19999999999999" fill="#fff6b4" stroke="#eadc78" stroke-width="1.1"/>
<rect x="491.2" y="394.5" width="17.30000000000001" height="15.300000000000011" fill="#fff" stroke="#eadc78" stroke-width="1.1"/>
<text x="0" y="0" font-size="6.6" font-weight="bold" fill="#111" stroke="#111" stroke-width="0.3" text-anchor="middle" textLength="33.8" lengthAdjust="spacing" transform="translate(497.45,375.70) rotate(90)">SECOND</text>
<rect x="491.2" y="431.7" width="17.30000000000001" height="40.0" fill="#fff6b4" stroke="#eadc78" stroke-width="1.1"/>
<rect x="491.2" y="471.7" width="17.30000000000001" height="14.600000000000023" fill="#fff" stroke="#eadc78" stroke-width="1.1"/>
<text x="0" y="0" font-size="6.6" font-weight="bold" fill="#111" stroke="#111" stroke-width="0.3" text-anchor="middle" textLength="33.8" lengthAdjust="spacing" transform="translate(497.45,452.00) rotate(90)">SECOND</text>
<rect x="702.5" y="280.9" width="17.100000000000023" height="39.900000000000034" fill="#fff6b4" stroke="#eadc78" stroke-width="1.1"/>
<rect x="702.5" y="320.8" width="17.100000000000023" height="14.599999999999966" fill="#fff" stroke="#eadc78" stroke-width="1.1"/>
<text x="0" y="0" font-size="6.6" font-weight="bold" fill="#111" stroke="#111" stroke-width="0.3" text-anchor="middle" textLength="33.8" lengthAdjust="spacing" transform="translate(708.65,301.15) rotate(90)">SECOND</text>
<rect x="703" y="356.7" width="17.200000000000045" height="39.19999999999999" fill="#fff6b4" stroke="#eadc78" stroke-width="1.1"/>
<rect x="703" y="395.9" width="17.200000000000045" height="15.100000000000023" fill="#fff" stroke="#eadc78" stroke-width="1.1"/>
<text x="0" y="0" font-size="6.6" font-weight="bold" fill="#111" stroke="#111" stroke-width="0.3" text-anchor="middle" textLength="33.8" lengthAdjust="spacing" transform="translate(709.20,376.60) rotate(90)">SECOND</text>
<rect x="702.3" y="204.2" width="16.4" height="53.8" fill="#dcdcdc"/>
<path d="M527,209.3 H559.4 A16.19999999999999,18.5 0 0 1 527,209.3 Z" fill="#3a8ed6" stroke="#24679f" stroke-width="1"/>
<text x="543.2" y="218.18" style="font-family:'Liberation Serif',serif" font-size="8" fill="#b9dcf5" text-anchor="middle" textLength="21.1" lengthAdjust="spacingAndGlyphs">UV light</text>
<line x1="521.00" y1="221.93" x2="527.00" y2="218.80" stroke="#3a3a3a" stroke-width="1.5"/>
<line x1="525.25" y1="228.65" x2="529.50" y2="224.40" stroke="#3a3a3a" stroke-width="1.5"/>
<line x1="531.43" y1="233.55" x2="533.80" y2="228.80" stroke="#3a3a3a" stroke-width="1.5"/>
<line x1="537.33" y1="233.45" x2="539.20" y2="229.20" stroke="#3a3a3a" stroke-width="1.5"/>
<line x1="542.85" y1="233.45" x2="543.60" y2="229.20" stroke="#3a3a3a" stroke-width="1.5"/>
<line x1="548.03" y1="233.95" x2="547.40" y2="229.70" stroke="#3a3a3a" stroke-width="1.5"/>
<line x1="554.55" y1="233.18" x2="552.80" y2="228.30" stroke="#3a3a3a" stroke-width="1.5"/>
<line x1="560.70" y1="228.78" x2="557.20" y2="223.90" stroke="#3a3a3a" stroke-width="1.5"/>
<line x1="565.50" y1="220.10" x2="560.00" y2="217.10" stroke="#3a3a3a" stroke-width="1.5"/>
<path d="M526,284.1 H558.1 A16.05000000000001,18.69999999999999 0 0 1 526,284.1 Z" fill="#3a8ed6" stroke="#24679f" stroke-width="1"/>
<text x="542.05" y="293.076" style="font-family:'Liberation Serif',serif" font-size="8" fill="#b9dcf5" text-anchor="middle" textLength="20.9" lengthAdjust="spacingAndGlyphs">UV light</text>
<line x1="520.06" y1="296.86" x2="526.00" y2="293.70" stroke="#3a3a3a" stroke-width="1.5"/>
<line x1="524.27" y1="303.66" x2="528.48" y2="299.36" stroke="#3a3a3a" stroke-width="1.5"/>
<line x1="530.38" y1="308.61" x2="532.74" y2="303.81" stroke="#3a3a3a" stroke-width="1.5"/>
<line x1="536.23" y1="308.51" x2="538.09" y2="304.22" stroke="#3a3a3a" stroke-width="1.5"/>
<line x1="541.70" y1="308.51" x2="542.45" y2="304.22" stroke="#3a3a3a" stroke-width="1.5"/>
<line x1="546.83" y1="309.02" x2="546.21" y2="304.72" stroke="#3a3a3a" stroke-width="1.5"/>
<line x1="553.29" y1="308.23" x2="551.56" y2="303.31" stroke="#3a3a3a" stroke-width="1.5"/>
<line x1="559.39" y1="303.79" x2="555.92" y2="298.86" stroke="#3a3a3a" stroke-width="1.5"/>
<line x1="564.14" y1="295.02" x2="558.69" y2="291.98" stroke="#3a3a3a" stroke-width="1.5"/>
<path d="M527.3,361.3 H559.5 A16.100000000000023,18.0 0 0 1 527.3,361.3 Z" fill="#e02828" stroke="#a41a1a" stroke-width="1"/>
<text x="543.4" y="369.94" style="font-family:'Liberation Serif',serif" font-size="7.5" fill="#f8c8c0" text-anchor="middle" textLength="20.9" lengthAdjust="spacingAndGlyphs">Hot Air</text>
<path d="M521.34,373.58 Q523.42,373.98 524.32,372.06 T527.30,370.54" fill="none" stroke="#3a3a3a" stroke-width="1.3"/>
<path d="M525.56,380.13 Q527.53,380.02 527.67,378.06 T529.78,375.99" fill="none" stroke="#3a3a3a" stroke-width="1.3"/>
<path d="M531.70,384.89 Q533.45,384.33 532.88,382.58 T534.06,380.27" fill="none" stroke="#3a3a3a" stroke-width="1.3"/>
<path d="M537.56,384.80 Q539.21,384.30 538.49,382.73 T539.42,380.66" fill="none" stroke="#3a3a3a" stroke-width="1.3"/>
<path d="M543.05,384.80 Q544.52,383.99 543.42,382.73 T543.80,380.66" fill="none" stroke="#3a3a3a" stroke-width="1.3"/>
<path d="M548.20,385.28 Q549.33,384.06 547.88,383.22 T547.57,381.15" fill="none" stroke="#3a3a3a" stroke-width="1.3"/>
<path d="M554.68,384.53 Q555.47,382.90 553.81,382.16 T552.94,379.79" fill="none" stroke="#3a3a3a" stroke-width="1.3"/>
<path d="M560.79,380.25 Q560.97,378.29 559.05,377.88 T557.31,375.51" fill="none" stroke="#3a3a3a" stroke-width="1.3"/>
<path d="M565.56,371.81 Q564.81,369.93 562.83,370.35 T560.10,368.89" fill="none" stroke="#3a3a3a" stroke-width="1.3"/>
<path d="M526.6,435.3 H560 A16.69999999999999,18.0 0 0 1 526.6,435.3 Z" fill="#4a9ad6" stroke="#2a6aa0" stroke-width="1"/>
<text x="543.3" y="442.14" style="font-family:'Liberation Serif',serif" font-size="6" fill="#b9dcf5" text-anchor="middle" textLength="25.0" lengthAdjust="spacingAndGlyphs">Germicide</text>
<text x="543.3" y="449.34000000000003" style="font-family:'Liberation Serif',serif" font-size="6" fill="#b9dcf5" text-anchor="middle">lamp</text>
<line x1="520.41" y1="447.58" x2="526.60" y2="444.54" stroke="#3a3a3a" stroke-width="1.5"/>
<line x1="524.80" y1="454.13" x2="529.18" y2="449.99" stroke="#3a3a3a" stroke-width="1.5"/>
<line x1="531.16" y1="458.89" x2="533.61" y2="454.27" stroke="#3a3a3a" stroke-width="1.5"/>
<line x1="537.24" y1="458.80" x2="539.18" y2="454.66" stroke="#3a3a3a" stroke-width="1.5"/>
<line x1="542.94" y1="458.80" x2="543.71" y2="454.66" stroke="#3a3a3a" stroke-width="1.5"/>
<line x1="548.27" y1="459.28" x2="547.63" y2="455.15" stroke="#3a3a3a" stroke-width="1.5"/>
<line x1="555.00" y1="458.53" x2="553.20" y2="453.79" stroke="#3a3a3a" stroke-width="1.5"/>
<line x1="561.34" y1="454.25" x2="557.73" y2="449.51" stroke="#3a3a3a" stroke-width="1.5"/>
<line x1="566.29" y1="445.81" x2="560.62" y2="442.89" stroke="#3a3a3a" stroke-width="1.5"/>
<path d="M738.5,360.2 H772 A16.75,19.0 0 0 1 738.5,360.2 Z" fill="#3a8ed6" stroke="#24679f" stroke-width="1"/>
<text x="755.25" y="369.32" style="font-family:'Liberation Serif',serif" font-size="8" fill="#b9dcf5" text-anchor="middle" textLength="21.8" lengthAdjust="spacingAndGlyphs">UV light</text>
<line x1="732.30" y1="373.17" x2="738.50" y2="369.96" stroke="#3a3a3a" stroke-width="1.5"/>
<line x1="736.69" y1="380.07" x2="741.08" y2="375.71" stroke="#3a3a3a" stroke-width="1.5"/>
<line x1="743.08" y1="385.11" x2="745.53" y2="380.23" stroke="#3a3a3a" stroke-width="1.5"/>
<line x1="749.18" y1="385.00" x2="751.11" y2="380.64" stroke="#3a3a3a" stroke-width="1.5"/>
<line x1="754.89" y1="385.00" x2="755.66" y2="380.64" stroke="#3a3a3a" stroke-width="1.5"/>
<line x1="760.24" y1="385.52" x2="759.59" y2="381.15" stroke="#3a3a3a" stroke-width="1.5"/>
<line x1="766.99" y1="384.72" x2="765.18" y2="379.71" stroke="#3a3a3a" stroke-width="1.5"/>
<line x1="773.34" y1="380.20" x2="769.73" y2="375.19" stroke="#3a3a3a" stroke-width="1.5"/>
<line x1="778.31" y1="371.29" x2="772.62" y2="368.21" stroke="#3a3a3a" stroke-width="1.5"/>
<rect x="516.1" y="235.80" width="55.10000000000002" height="3.2" fill="#2c5a8a"/>
<rect x="516.1" y="239.00" width="55.10000000000002" height="2.4" fill="#a89c8c"/>
<rect x="516.1" y="241.40" width="55.10000000000002" height="13.1" fill="#f2e838"/>
<rect x="516.1" y="254.50" width="55.10000000000002" height="3.4" fill="#2f6a96"/>
<rect x="726.5" y="227.1" width="56.5" height="14.1" fill="#f2e838" stroke="#8a7a40" stroke-width="0.6"/>
<rect x="726.5" y="241.20" width="56.5" height="1.2" fill="#7a8a9a"/>
<rect x="726.5" y="242.40" width="56.5" height="3.4" fill="#2f6a96"/>
<rect x="726.5" y="223.5" width="47" height="3.6" fill="#111"/>
<rect x="730.5" y="224.4" width="6.2000000000000455" height="1.8" fill="#fff"/>
<rect x="743.6" y="224.4" width="7.600000000000023" height="1.8" fill="#fff"/>
<rect x="758.1" y="224.4" width="7.199999999999932" height="1.8" fill="#fff"/>
<path d="M772,226.5 L781.5,220" stroke="#111" stroke-width="3.4" stroke-linecap="butt"/>
<path d="M773.5,225.6 L779.5,221.6" stroke="#fff" stroke-width="1.6"/>
<path d="M779,218.6 L782.8,217.6 L783.2,221 Z" fill="#1a2050"/>
<path d="M515.3,403.2 L515.3,399 L517.70,399.00 Q518.50,399.00 518.84,397.80 L519.90,390.00 Q520.20,389.00 521.20,389.00 L527.00,389.00 Q528.00,389.00 528.30,390.00 L529.36,396.50 Q529.70,397.70 530.50,397.70 L531.30,397.70 Q532.10,397.70 532.44,396.50 L533.50,390.00 Q533.80,389.00 534.80,389.00 L541.00,389.00 Q542.00,389.00 542.30,390.00 L543.36,396.50 Q543.70,397.70 544.50,397.70 L545.40,397.70 Q546.20,397.70 546.54,396.50 L547.60,390.00 Q547.90,389.00 548.90,389.00 L554.60,389.00 Q555.60,389.00 555.90,390.00 L556.96,396.50 Q557.30,397.70 558.10,397.70 L559.00,397.70 Q559.80,397.70 560.14,396.50 L561.20,390.00 Q561.50,389.00 562.50,389.00 L568.20,389.00 Q569.20,389.00 569.50,390.00 L570.56,396.50 Q570.90,397.70 571.70,397.70 L571.7,399 L571.7,403.2 Z" fill="#f0b440" stroke="#7a5a20" stroke-width="0.9" stroke-linejoin="round"/>
<rect x="515.3" y="403.20" width="56.40000000000009" height="1.3" fill="#f4efe4"/>
<rect x="515.3" y="404.50" width="56.40000000000009" height="3" fill="#2f4f86"/>
<path d="M515.3,479.5 L515.3,475.6 L517.70,475.60 Q518.50,475.60 518.84,474.40 L519.90,466.20 Q520.20,465.20 521.20,465.20 L527.00,465.20 Q528.00,465.20 528.30,466.20 L529.36,472.80 Q529.70,474.00 530.50,474.00 L531.30,474.00 Q532.10,474.00 532.44,472.80 L533.50,466.20 Q533.80,465.20 534.80,465.20 L541.00,465.20 Q542.00,465.20 542.30,466.20 L543.36,472.80 Q543.70,474.00 544.50,474.00 L545.40,474.00 Q546.20,474.00 546.54,472.80 L547.60,466.20 Q547.90,465.20 548.90,465.20 L554.60,465.20 Q555.60,465.20 555.90,466.20 L556.96,472.80 Q557.30,474.00 558.10,474.00 L559.00,474.00 Q559.80,474.00 560.14,472.80 L561.20,466.20 Q561.50,465.20 562.50,465.20 L568.20,465.20 Q569.20,465.20 569.50,466.20 L570.56,472.80 Q570.90,474.00 571.70,474.00 L571.7,475.6 L571.7,479.5 Z" fill="#f0b440" stroke="#7a5a20" stroke-width="0.9" stroke-linejoin="round"/>
<rect x="515.3" y="479.50" width="56.40000000000009" height="1.3" fill="#f4efe4"/>
<rect x="515.3" y="480.80" width="56.40000000000009" height="3.5" fill="#2f5f96"/>
<path d="M726.8,329.5 L726.8,326.9 L728.50,326.90 Q729.30,326.90 729.64,325.70 L730.70,317.00 Q731.00,316.00 732.00,316.00 L736.00,316.00 Q737.00,316.00 737.30,317.00 L738.36,324.60 Q738.70,325.80 739.50,325.80 L743.00,325.80 Q743.80,325.80 744.14,324.60 L745.20,317.00 Q745.50,316.00 746.50,316.00 L751.20,316.00 Q752.20,316.00 752.50,317.00 L753.56,324.60 Q753.90,325.80 754.70,325.80 L757.00,325.80 Q757.80,325.80 758.14,324.60 L759.20,317.00 Q759.50,316.00 760.50,316.00 L765.30,316.00 Q766.30,316.00 766.60,317.00 L767.66,324.60 Q768.00,325.80 768.80,325.80 L771.10,325.80 Q771.90,325.80 772.24,324.60 L773.30,317.00 Q773.60,316.00 774.60,316.00 L778.80,316.00 Q779.80,316.00 780.10,317.00 L781.16,324.60 Q781.50,325.80 782.30,325.80 L782.9,326.9 L782.9,329.5 Z" fill="#f0b440" stroke="#7a5a20" stroke-width="0.9" stroke-linejoin="round"/>
<rect x="726.8" y="329.50" width="56.10000000000002" height="2.1" fill="#b8b8b8"/>
<rect x="726.8" y="331.60" width="56.10000000000002" height="3.1" fill="#2f4f86"/>
<path d="M727.5,403.3 L727.5,400.3 L730.00,400.30 Q730.80,400.30 731.14,399.10 L732.20,390.50 Q732.50,389.50 733.50,389.50 L738.50,389.50 Q739.50,389.50 739.80,390.50 L740.86,397.80 Q741.20,399.00 742.00,399.00 L744.00,399.00 Q744.80,399.00 745.14,397.80 L746.20,390.50 Q746.50,389.50 747.50,389.50 L752.50,389.50 Q753.50,389.50 753.80,390.50 L754.86,397.80 Q755.20,399.00 756.00,399.00 L758.00,399.00 Q758.80,399.00 759.14,397.80 L760.20,390.50 Q760.50,389.50 761.50,389.50 L766.50,389.50 Q767.50,389.50 767.80,390.50 L768.86,397.80 Q769.20,399.00 770.00,399.00 L772.00,399.00 Q772.80,399.00 773.14,397.80 L774.20,390.50 Q774.50,389.50 775.50,389.50 L780.00,389.50 Q781.00,389.50 781.30,390.50 L782.36,397.80 Q782.70,399.00 783.50,399.00 L783.5,400.3 L783.5,403.3 Z" fill="#f0b440" stroke="#7a5a20" stroke-width="0.9" stroke-linejoin="round"/>
<rect x="727.5" y="403.30" width="56.0" height="1.3" fill="#f4efe4"/>
<rect x="727.5" y="404.60" width="56.0" height="3.6" fill="#2f5f96"/>
<rect x="514.1" y="314" width="57.3" height="13.6" fill="#e8a838"/>
<path d="M521.5,314 L529.5,314 L527.5,327 L523.5,327 Z" fill="#f0e830"/>
<path d="M521.0,316 l1.5,8 M530.0,316 l-1.5,8" stroke="#222" stroke-width="1.1" stroke-dasharray="1.5 1.2"/>
<path d="M535.5,314 L543.5,314 L541.5,327 L537.5,327 Z" fill="#f0e830"/>
<path d="M535.0,316 l1.5,8 M544.0,316 l-1.5,8" stroke="#222" stroke-width="1.1" stroke-dasharray="1.5 1.2"/>
<path d="M549.5,314 L557.5,314 L555.5,327 L551.5,327 Z" fill="#f0e830"/>
<path d="M549.0,316 l1.5,8 M558.0,316 l-1.5,8" stroke="#222" stroke-width="1.1" stroke-dasharray="1.5 1.2"/>
<path d="M563.5,314 L571.5,314 L569.5,327 L565.5,327 Z" fill="#f0e830"/>
<path d="M563.0,316 l1.5,8 M572.0,316 l-1.5,8" stroke="#222" stroke-width="1.1" stroke-dasharray="1.5 1.2"/>
<rect x="514.1" y="310.6" width="57.3" height="3.4" fill="#111"/>
<rect x="523.0" y="311.4" width="5" height="1.8" fill="#e8e8e8"/>
<rect x="523.7" y="307.7" width="3.6" height="3" fill="#c8bcb0"/>
<rect x="537.0" y="311.4" width="5" height="1.8" fill="#e8e8e8"/>
<rect x="537.7" y="307.7" width="3.6" height="3" fill="#c8bcb0"/>
<rect x="551.0" y="311.4" width="5" height="1.8" fill="#e8e8e8"/>
<rect x="551.7" y="307.7" width="3.6" height="3" fill="#c8bcb0"/>
<rect x="565.0" y="311.4" width="5" height="1.8" fill="#e8e8e8"/>
<rect x="565.7" y="307.7" width="3.6" height="3" fill="#c8bcb0"/>
<rect x="514.1" y="327.6" width="57.3" height="1.4" fill="#d8b070"/>
<rect x="514.1" y="329" width="57.3" height="4" fill="#2f5f96"/>
<text x="754.5" y="290" style="font-family:'Liberation Serif',serif" font-size="7.2" fill="#3a3a3a" text-anchor="middle" textLength="15.5" lengthAdjust="spacingAndGlyphs">Brush</text>
<rect x="730.9" y="292.6" width="48.9" height="4.1" fill="#ebe3e3" stroke="#8a7a7a" stroke-width="0.8"/>
<rect x="733.5" y="297" width="5.8" height="5" fill="#9a9a9a"/>
<rect x="741.0" y="297" width="5.8" height="5" fill="#9a9a9a"/>
<rect x="748.5" y="297" width="5.8" height="5" fill="#9a9a9a"/>
<rect x="756.0" y="297" width="5.8" height="5" fill="#9a9a9a"/>
<rect x="763.5" y="297" width="5.8" height="5" fill="#9a9a9a"/>
<rect x="771.0" y="297" width="5.8" height="5" fill="#9a9a9a"/>
<ellipse cx="735" cy="309" rx="0.9" ry="1.7" fill="#666"/>
<ellipse cx="739.5" cy="305" rx="0.9" ry="1.7" fill="#666"/>
<ellipse cx="744" cy="310" rx="0.9" ry="1.7" fill="#666"/>
<ellipse cx="749" cy="306" rx="0.9" ry="1.7" fill="#666"/>
<ellipse cx="754" cy="307" rx="0.9" ry="1.7" fill="#666"/>
<ellipse cx="758" cy="311" rx="0.9" ry="1.7" fill="#666"/>
<ellipse cx="763" cy="306" rx="0.9" ry="1.7" fill="#666"/>
<ellipse cx="768" cy="309.5" rx="0.9" ry="1.7" fill="#666"/>
<ellipse cx="773" cy="307" rx="0.9" ry="1.7" fill="#666"/>
<polygon points="400,148.2 421.5,168.2 407.2,168.2 407.2,180.6 421.5,180.6 400,198.7 377.7,180.6 391,180.6 391,168.2 377.7,168.2" fill="#d9ddc6" stroke="#555" stroke-width="1.4"/>
<polygon points="512.7,148 534.5,167.7 520,167.7 520,181.4 534.5,181.4 512.7,200.5 490,181.4 506.4,181.4 506.4,167.7 490,167.7" fill="#d9ddc6" stroke="#555" stroke-width="1.4"/>
</g></svg></body></html>
